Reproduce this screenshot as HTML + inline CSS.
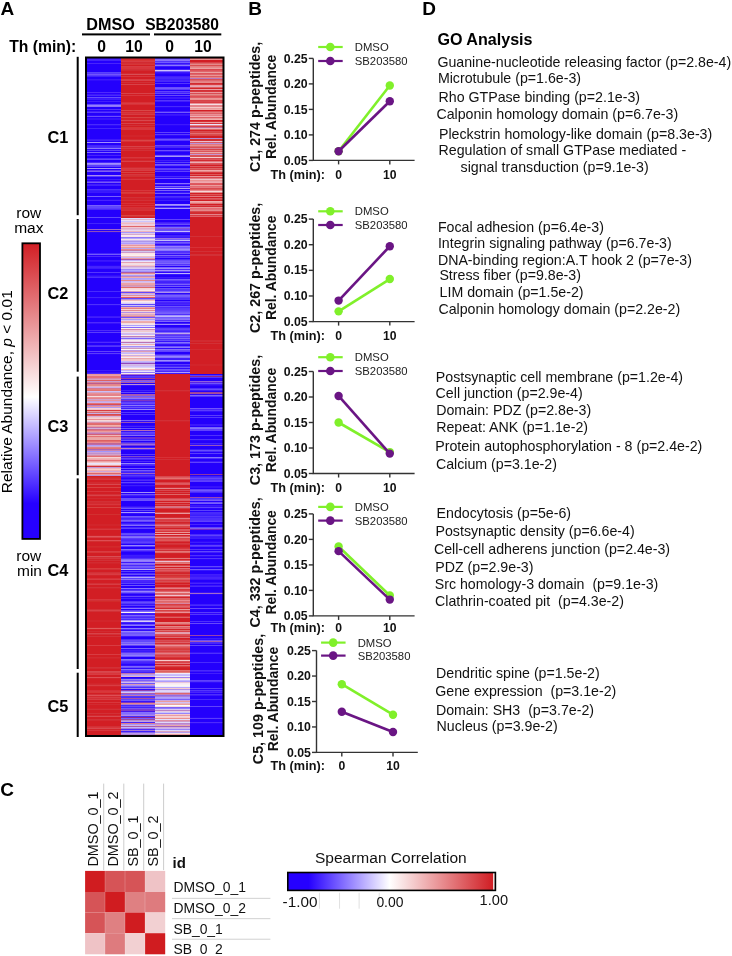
<!DOCTYPE html>
<html><head><meta charset="utf-8"><style>
html,body{margin:0;padding:0;background:#fff;width:732px;height:956px;overflow:hidden}
svg{display:block;font-family:"Liberation Sans", sans-serif;will-change:transform}
</style></head><body>
<svg width="732" height="956" viewBox="0 0 732 956">
<rect width="732" height="956" fill="#fff"/>
<text x="0.6" y="14.75" font-size="19" font-weight="bold" fill="#000">A</text>
<text x="248.2" y="14.7" font-size="19" font-weight="bold" fill="#000">B</text>
<text x="422.2" y="14.7" font-size="19" font-weight="bold" fill="#000">D</text>
<text x="0.2" y="795.5" font-size="19" font-weight="bold" fill="#000">C</text>
<text x="86.3" y="29.6" font-size="16.2" font-weight="bold" fill="#000">DMSO</text>
<text x="145.2" y="29.6" font-size="15.6" font-weight="bold" fill="#000">SB203580</text>
<rect x="82" y="33.4" width="68" height="2" fill="#000"/>
<rect x="154" y="33.4" width="67.3" height="2" fill="#000"/>
<text x="9.2" y="51.6" font-size="15.7" font-weight="bold" fill="#000">Th (min):</text>
<text x="101.5" y="51.6" font-size="15.7" font-weight="bold" text-anchor="middle" fill="#000">0</text>
<text x="134" y="51.6" font-size="15.7" font-weight="bold" text-anchor="middle" fill="#000">10</text>
<text x="169.7" y="51.6" font-size="15.7" font-weight="bold" text-anchor="middle" fill="#000">0</text>
<text x="203" y="51.6" font-size="15.7" font-weight="bold" text-anchor="middle" fill="#000">10</text>
<g shape-rendering="crispEdges"><path fill="#3c18fc" d="M87 58h34v1h-34zM87 79h34v1h-34zM87 94h34v1h-34zM87 98h34v1h-34zM87 139h34v1h-34zM87 192h34v1h-34zM87 260h34v1h-34zM87 316h34v1h-34zM121 474h34.1v1h-34.1zM121 551h34.1v1h-34.1zM121 556h34.1v2h-34.1zM121 562h34.1v1h-34.1zM121 614h34.1v1h-34.1zM121 636h34.1v1h-34.1zM155.1 66h34.7v1h-34.7zM155.1 72h34.7v1h-34.7zM155.1 97h34.7v2h-34.7zM155.1 114h34.7v1h-34.7zM155.1 124h34.7v1h-34.7zM155.1 151h34.7v1h-34.7zM155.1 237h34.7v1h-34.7zM155.1 277h34.7v1h-34.7zM155.1 285h34.7v1h-34.7zM155.1 373h34.7v1h-34.7zM189.8 424h32.7v2h-32.7zM189.8 461h32.7v1h-32.7zM189.8 505h32.7v1h-32.7zM189.8 537h32.7v1h-32.7zM189.8 575h32.7v2h-32.7zM189.8 579h32.7v1h-32.7zM189.8 585h32.7v1h-32.7zM189.8 671h32.7v1h-32.7zM189.8 691h32.7v1h-32.7zM189.8 695h32.7v1h-32.7z"/><path fill="#4824fc" d="M87 59h34v1h-34zM87 63h34v1h-34zM87 155h34v1h-34zM87 200h34v1h-34zM87 267h34v1h-34zM121 459h34.1v1h-34.1zM121 465h34.1v1h-34.1zM121 476h34.1v1h-34.1zM121 518h34.1v1h-34.1zM121 535h34.1v1h-34.1zM121 580h34.1v2h-34.1zM121 662h34.1v1h-34.1zM121 722h34.1v1h-34.1zM155.1 69h34.7v1h-34.7zM155.1 80h34.7v1h-34.7zM155.1 92h34.7v1h-34.7zM155.1 147h34.7v1h-34.7zM155.1 232h34.7v1h-34.7zM155.1 241h34.7v1h-34.7zM155.1 256h34.7v1h-34.7zM155.1 302h34.7v1h-34.7zM189.8 409h32.7v1h-32.7zM189.8 524h32.7v1h-32.7zM189.8 577h32.7v2h-32.7zM189.8 583h32.7v1h-32.7zM189.8 643h32.7v1h-32.7zM189.8 692h32.7v1h-32.7z"/><path fill="#4224fc" d="M87 60h34v1h-34zM87 76h34v1h-34zM87 128h34v1h-34zM87 140h34v1h-34zM87 145h34v1h-34zM87 185h34v1h-34zM87 223h34v1h-34zM87 253h34v1h-34zM87 266h34v1h-34zM87 297h34v1h-34zM121 390h34.1v1h-34.1zM121 404h34.1v1h-34.1zM121 406h34.1v1h-34.1zM121 426h34.1v1h-34.1zM121 439h34.1v1h-34.1zM121 495h34.1v1h-34.1zM121 593h34.1v1h-34.1zM121 598h34.1v1h-34.1zM121 613h34.1v1h-34.1zM121 622h34.1v1h-34.1zM121 707h34.1v1h-34.1zM155.1 138h34.7v1h-34.7zM155.1 197h34.7v1h-34.7zM155.1 226h34.7v1h-34.7zM155.1 235h34.7v2h-34.7zM155.1 281h34.7v1h-34.7zM155.1 323h34.7v1h-34.7zM155.1 331h34.7v1h-34.7zM155.1 366h34.7v1h-34.7zM189.8 443h32.7v1h-32.7zM189.8 476h32.7v1h-32.7zM189.8 514h32.7v1h-32.7zM189.8 517h32.7v1h-32.7z"/><path fill="#2400fc" d="M87 61h34v1h-34zM87 64h34v8h-34zM87 77h34v2h-34zM87 81h34v11h-34zM87 96h34v1h-34zM87 100h34v1h-34zM87 102h34v2h-34zM87 107h34v2h-34zM87 110h34v1h-34zM87 113h34v2h-34zM87 117h34v1h-34zM87 120h34v4h-34zM87 126h34v2h-34zM87 129h34v10h-34zM87 141h34v1h-34zM87 143h34v2h-34zM87 151h34v1h-34zM87 153h34v1h-34zM87 156h34v2h-34zM87 160h34v2h-34zM87 167h34v1h-34zM87 169h34v1h-34zM87 172h34v3h-34zM87 177h34v2h-34zM87 183h34v1h-34zM87 186h34v3h-34zM87 193h34v3h-34zM87 197h34v2h-34zM87 201h34v4h-34zM87 210h34v7h-34zM87 218h34v5h-34zM87 224h34v5h-34zM87 230h34v1h-34zM87 233h34v20h-34zM87 257h34v3h-34zM87 262h34v3h-34zM87 269h34v3h-34zM87 273h34v2h-34zM87 278h34v13h-34zM87 292h34v5h-34zM87 299h34v5h-34zM87 306h34v10h-34zM87 318h34v4h-34zM87 324h34v6h-34zM87 333h34v8h-34zM87 343h34v2h-34zM87 347h34v4h-34zM87 355h34v15h-34zM121 383h34.1v1h-34.1zM121 386h34.1v4h-34.1zM121 393h34.1v1h-34.1zM121 410h34.1v2h-34.1zM121 413h34.1v1h-34.1zM121 415h34.1v4h-34.1zM121 423h34.1v2h-34.1zM121 427h34.1v1h-34.1zM121 429h34.1v1h-34.1zM121 436h34.1v1h-34.1zM121 441h34.1v1h-34.1zM121 446h34.1v1h-34.1zM121 450h34.1v4h-34.1zM121 455h34.1v1h-34.1zM121 460h34.1v1h-34.1zM121 462h34.1v1h-34.1zM121 466h34.1v2h-34.1zM121 469h34.1v1h-34.1zM121 481h34.1v1h-34.1zM121 484h34.1v1h-34.1zM121 487h34.1v5h-34.1zM121 493h34.1v1h-34.1zM121 501h34.1v5h-34.1zM121 509h34.1v1h-34.1zM121 511h34.1v1h-34.1zM121 514h34.1v2h-34.1zM121 526h34.1v1h-34.1zM121 529h34.1v3h-34.1zM121 544h34.1v1h-34.1zM121 547h34.1v2h-34.1zM121 552h34.1v2h-34.1zM121 572h34.1v1h-34.1zM121 575h34.1v1h-34.1zM121 584h34.1v1h-34.1zM121 586h34.1v2h-34.1zM121 594h34.1v1h-34.1zM121 599h34.1v2h-34.1zM121 606h34.1v1h-34.1zM121 609h34.1v1h-34.1zM121 626h34.1v1h-34.1zM121 637h34.1v2h-34.1zM121 646h34.1v2h-34.1zM121 657h34.1v2h-34.1zM121 677h34.1v1h-34.1zM155.1 67h34.7v2h-34.7zM155.1 74h34.7v2h-34.7zM155.1 82h34.7v1h-34.7zM155.1 84h34.7v3h-34.7zM155.1 90h34.7v1h-34.7zM155.1 94h34.7v1h-34.7zM155.1 96h34.7v1h-34.7zM155.1 99h34.7v1h-34.7zM155.1 102h34.7v4h-34.7zM155.1 108h34.7v3h-34.7zM155.1 113h34.7v1h-34.7zM155.1 116h34.7v8h-34.7zM155.1 126h34.7v6h-34.7zM155.1 133h34.7v1h-34.7zM155.1 136h34.7v2h-34.7zM155.1 141h34.7v4h-34.7zM155.1 148h34.7v2h-34.7zM155.1 152h34.7v2h-34.7zM155.1 157h34.7v3h-34.7zM155.1 163h34.7v1h-34.7zM155.1 167h34.7v1h-34.7zM155.1 172h34.7v4h-34.7zM155.1 179h34.7v4h-34.7zM155.1 185h34.7v1h-34.7zM155.1 194h34.7v2h-34.7zM155.1 201h34.7v3h-34.7zM155.1 206h34.7v1h-34.7zM155.1 209h34.7v10h-34.7zM155.1 220h34.7v2h-34.7zM155.1 234h34.7v1h-34.7zM155.1 258h34.7v1h-34.7zM155.1 266h34.7v1h-34.7zM155.1 275h34.7v2h-34.7zM155.1 287h34.7v1h-34.7zM155.1 300h34.7v1h-34.7zM155.1 322h34.7v1h-34.7zM155.1 325h34.7v2h-34.7zM155.1 352h34.7v2h-34.7zM155.1 362h34.7v2h-34.7zM189.8 374h32.7v1h-32.7zM189.8 378h32.7v3h-32.7zM189.8 386h32.7v2h-32.7zM189.8 391h32.7v1h-32.7zM189.8 397h32.7v11h-32.7zM189.8 412h32.7v3h-32.7zM189.8 416h32.7v1h-32.7zM189.8 418h32.7v6h-32.7zM189.8 426h32.7v1h-32.7zM189.8 431h32.7v4h-32.7zM189.8 436h32.7v3h-32.7zM189.8 441h32.7v2h-32.7zM189.8 446h32.7v3h-32.7zM189.8 452h32.7v1h-32.7zM189.8 454h32.7v3h-32.7zM189.8 459h32.7v2h-32.7zM189.8 463h32.7v11h-32.7zM189.8 475h32.7v1h-32.7zM189.8 482h32.7v4h-32.7zM189.8 488h32.7v1h-32.7zM189.8 493h32.7v4h-32.7zM189.8 501h32.7v1h-32.7zM189.8 504h32.7v1h-32.7zM189.8 509h32.7v1h-32.7zM189.8 511h32.7v1h-32.7zM189.8 522h32.7v2h-32.7zM189.8 525h32.7v2h-32.7zM189.8 530h32.7v4h-32.7zM189.8 539h32.7v2h-32.7zM189.8 543h32.7v1h-32.7zM189.8 547h32.7v1h-32.7zM189.8 550h32.7v1h-32.7zM189.8 553h32.7v2h-32.7zM189.8 557h32.7v1h-32.7zM189.8 560h32.7v6h-32.7zM189.8 568h32.7v1h-32.7zM189.8 571h32.7v3h-32.7zM189.8 580h32.7v2h-32.7zM189.8 584h32.7v1h-32.7zM189.8 587h32.7v5h-32.7zM189.8 595h32.7v9h-32.7zM189.8 606h32.7v2h-32.7zM189.8 609h32.7v3h-32.7zM189.8 615h32.7v6h-32.7zM189.8 622h32.7v1h-32.7zM189.8 624h32.7v11h-32.7zM189.8 636h32.7v2h-32.7zM189.8 644h32.7v1h-32.7zM189.8 646h32.7v6h-32.7zM189.8 654h32.7v8h-32.7zM189.8 663h32.7v7h-32.7zM189.8 672h32.7v1h-32.7zM189.8 674h32.7v6h-32.7zM189.8 683h32.7v5h-32.7zM189.8 689h32.7v1h-32.7zM189.8 693h32.7v1h-32.7zM189.8 696h32.7v3h-32.7zM189.8 700h32.7v6h-32.7zM189.8 707h32.7v10h-32.7zM189.8 719h32.7v3h-32.7zM189.8 724h32.7v11h-32.7z"/><path fill="#2400ff" d="M87 62h34v1h-34z"/><path fill="#5a42fc" d="M87 72h34v1h-34zM87 150h34v1h-34zM121 524h34.1v1h-34.1zM121 571h34.1v1h-34.1zM121 578h34.1v1h-34.1zM121 583h34.1v1h-34.1zM155.1 162h34.7v1h-34.7zM189.8 510h32.7v1h-32.7z"/><path fill="#5436fc" d="M87 73h34v1h-34zM87 272h34v1h-34zM87 346h34v1h-34zM121 399h34.1v1h-34.1zM121 412h34.1v1h-34.1zM121 541h34.1v1h-34.1zM121 558h34.1v1h-34.1zM121 568h34.1v1h-34.1zM121 590h34.1v1h-34.1zM121 601h34.1v1h-34.1zM121 603h34.1v1h-34.1zM121 671h34.1v1h-34.1zM121 696h34.1v1h-34.1zM155.1 58h34.7v1h-34.7zM155.1 61h34.7v1h-34.7zM155.1 64h34.7v1h-34.7zM155.1 83h34.7v1h-34.7zM155.1 100h34.7v1h-34.7zM155.1 140h34.7v1h-34.7zM155.1 207h34.7v1h-34.7zM155.1 264h34.7v1h-34.7zM155.1 283h34.7v1h-34.7zM155.1 289h34.7v2h-34.7zM155.1 294h34.7v1h-34.7zM155.1 299h34.7v1h-34.7zM155.1 320h34.7v1h-34.7zM155.1 335h34.7v1h-34.7zM155.1 337h34.7v1h-34.7zM189.8 377h32.7v1h-32.7zM189.8 396h32.7v1h-32.7zM189.8 417h32.7v1h-32.7zM189.8 516h32.7v1h-32.7zM189.8 520h32.7v1h-32.7zM189.8 549h32.7v1h-32.7zM189.8 558h32.7v1h-32.7zM189.8 614h32.7v1h-32.7zM189.8 681h32.7v1h-32.7zM189.8 690h32.7v1h-32.7z"/><path fill="#7254fc" d="M87 74h34v1h-34zM121 317h34.1v1h-34.1zM155.1 178h34.7v1h-34.7zM189.8 408h32.7v1h-32.7z"/><path fill="#5a3cfc" d="M87 75h34v1h-34zM87 112h34v1h-34zM87 165h34v2h-34zM87 176h34v1h-34zM87 208h34v1h-34zM87 332h34v1h-34zM87 353h34v1h-34zM121 376h34.1v1h-34.1zM121 433h34.1v1h-34.1zM121 454h34.1v1h-34.1zM121 538h34.1v1h-34.1zM121 546h34.1v1h-34.1zM121 550h34.1v1h-34.1zM121 605h34.1v1h-34.1zM121 616h34.1v1h-34.1zM121 670h34.1v1h-34.1zM155.1 89h34.7v1h-34.7zM155.1 134h34.7v1h-34.7zM155.1 168h34.7v1h-34.7zM155.1 257h34.7v1h-34.7zM155.1 301h34.7v1h-34.7zM155.1 309h34.7v1h-34.7zM155.1 328h34.7v1h-34.7zM155.1 364h34.7v1h-34.7zM189.8 375h32.7v1h-32.7zM189.8 410h32.7v1h-32.7zM189.8 415h32.7v1h-32.7zM189.8 453h32.7v1h-32.7zM189.8 480h32.7v1h-32.7zM189.8 612h32.7v1h-32.7zM189.8 688h32.7v1h-32.7zM189.8 718h32.7v1h-32.7z"/><path fill="#300cfc" d="M87 80h34v1h-34zM87 125h34v1h-34zM87 149h34v1h-34zM87 275h34v1h-34zM87 341h34v1h-34zM121 421h34.1v1h-34.1zM121 496h34.1v1h-34.1zM121 595h34.1v1h-34.1zM121 623h34.1v1h-34.1zM121 630h34.1v1h-34.1zM121 649h34.1v1h-34.1zM121 668h34.1v1h-34.1zM121 689h34.1v1h-34.1zM155.1 73h34.7v1h-34.7zM155.1 135h34.7v1h-34.7zM155.1 177h34.7v1h-34.7zM155.1 198h34.7v1h-34.7zM155.1 244h34.7v1h-34.7zM155.1 254h34.7v1h-34.7zM155.1 278h34.7v1h-34.7zM155.1 348h34.7v1h-34.7zM155.1 368h34.7v1h-34.7zM189.8 385h32.7v1h-32.7zM189.8 444h32.7v1h-32.7zM189.8 544h32.7v1h-32.7zM189.8 556h32.7v1h-32.7zM189.8 639h32.7v1h-32.7zM189.8 682h32.7v1h-32.7z"/><path fill="#4e2afc" d="M87 92h34v1h-34zM87 256h34v1h-34zM87 322h34v1h-34zM87 330h34v1h-34zM87 342h34v1h-34zM121 449h34.1v1h-34.1zM121 461h34.1v1h-34.1zM121 480h34.1v1h-34.1zM121 539h34.1v1h-34.1zM121 617h34.1v1h-34.1zM121 629h34.1v1h-34.1zM121 729h34.1v1h-34.1zM155.1 269h34.7v1h-34.7zM155.1 307h34.7v1h-34.7zM189.8 722h32.7v1h-32.7z"/><path fill="#2a00fc" d="M87 93h34v1h-34zM87 180h34v1h-34zM87 255h34v1h-34zM87 298h34v1h-34zM87 352h34v1h-34zM121 419h34.1v1h-34.1zM121 478h34.1v1h-34.1zM155.1 225h34.7v1h-34.7zM189.8 548h32.7v1h-32.7z"/><path fill="#482afc" d="M87 95h34v1h-34zM87 124h34v1h-34zM87 146h34v1h-34zM87 162h34v1h-34zM87 209h34v1h-34zM87 291h34v1h-34zM87 345h34v1h-34zM87 373h34v1h-34zM121 527h34.1v1h-34.1zM121 540h34.1v1h-34.1zM121 543h34.1v1h-34.1zM121 565h34.1v1h-34.1zM121 619h34.1v1h-34.1zM121 705h34.1v1h-34.1zM121 716h34.1v1h-34.1zM155.1 77h34.7v2h-34.7zM155.1 81h34.7v1h-34.7zM155.1 106h34.7v1h-34.7zM155.1 146h34.7v1h-34.7zM155.1 176h34.7v1h-34.7zM155.1 187h34.7v1h-34.7zM155.1 259h34.7v1h-34.7zM155.1 304h34.7v1h-34.7zM155.1 354h34.7v1h-34.7zM155.1 371h34.7v1h-34.7zM189.8 451h32.7v1h-32.7zM189.8 492h32.7v1h-32.7zM189.8 512h32.7v2h-32.7zM189.8 534h32.7v1h-32.7zM189.8 586h32.7v1h-32.7zM189.8 605h32.7v1h-32.7zM189.8 642h32.7v1h-32.7zM189.8 662h32.7v1h-32.7zM189.8 670h32.7v1h-32.7zM189.8 699h32.7v1h-32.7z"/><path fill="#664efc" d="M87 97h34v1h-34zM121 407h34.1v1h-34.1zM121 428h34.1v1h-34.1zM121 498h34.1v2h-34.1zM121 534h34.1v1h-34.1zM121 574h34.1v1h-34.1zM121 602h34.1v1h-34.1zM121 618h34.1v1h-34.1zM121 624h34.1v1h-34.1zM121 667h34.1v1h-34.1zM155.1 224h34.7v1h-34.7zM155.1 230h34.7v1h-34.7zM155.1 260h34.7v1h-34.7zM155.1 288h34.7v1h-34.7zM155.1 311h34.7v1h-34.7zM155.1 340h34.7v1h-34.7zM155.1 343h34.7v1h-34.7zM155.1 350h34.7v1h-34.7zM189.8 389h32.7v1h-32.7zM189.8 450h32.7v1h-32.7z"/><path fill="#3c1efc" d="M87 99h34v1h-34zM87 190h34v1h-34zM87 268h34v1h-34zM87 276h34v1h-34zM87 370h34v1h-34zM121 408h34.1v1h-34.1zM121 479h34.1v1h-34.1zM121 485h34.1v1h-34.1zM121 523h34.1v1h-34.1zM121 555h34.1v1h-34.1zM121 589h34.1v1h-34.1zM121 663h34.1v1h-34.1zM121 731h34.1v1h-34.1zM155.1 79h34.7v1h-34.7zM155.1 200h34.7v1h-34.7zM155.1 359h34.7v1h-34.7zM189.8 449h32.7v1h-32.7zM189.8 515h32.7v1h-32.7zM189.8 536h32.7v1h-32.7zM189.8 538h32.7v1h-32.7zM189.8 542h32.7v1h-32.7zM189.8 604h32.7v1h-32.7zM189.8 638h32.7v1h-32.7z"/><path fill="#421efc" d="M87 101h34v1h-34zM87 111h34v1h-34zM87 179h34v1h-34zM87 184h34v1h-34zM87 317h34v1h-34zM121 447h34.1v1h-34.1zM121 472h34.1v1h-34.1zM121 582h34.1v1h-34.1zM121 607h34.1v1h-34.1zM121 650h34.1v1h-34.1zM121 672h34.1v1h-34.1zM155.1 76h34.7v1h-34.7zM155.1 101h34.7v1h-34.7zM155.1 111h34.7v1h-34.7zM155.1 160h34.7v1h-34.7zM155.1 184h34.7v1h-34.7zM155.1 222h34.7v1h-34.7zM155.1 282h34.7v1h-34.7zM155.1 303h34.7v1h-34.7zM155.1 358h34.7v1h-34.7zM189.8 384h32.7v1h-32.7zM189.8 390h32.7v1h-32.7zM189.8 552h32.7v1h-32.7zM189.8 574h32.7v1h-32.7zM189.8 673h32.7v1h-32.7z"/><path fill="#6048fc" d="M87 104h34v1h-34zM87 206h34v2h-34zM87 217h34v1h-34zM121 304h34.1v1h-34.1zM121 392h34.1v1h-34.1zM121 533h34.1v1h-34.1zM121 641h34.1v1h-34.1zM155.1 93h34.7v1h-34.7zM189.8 527h32.7v1h-32.7zM189.8 551h32.7v1h-32.7zM189.8 566h32.7v1h-32.7zM189.8 645h32.7v1h-32.7z"/><path fill="#967efc" d="M87 105h34v1h-34zM155.1 246h34.7v1h-34.7z"/><path fill="#8a72f6" d="M87 106h34v1h-34z"/><path fill="#5430fc" d="M87 109h34v1h-34zM87 181h34v1h-34zM155.1 252h34.7v1h-34.7z"/><path fill="#300cff" d="M87 115h34v1h-34z"/><path fill="#6c4efc" d="M87 116h34v1h-34zM121 494h34.1v1h-34.1zM155.1 87h34.7v1h-34.7zM155.1 150h34.7v1h-34.7zM155.1 253h34.7v1h-34.7zM155.1 346h34.7v1h-34.7zM189.8 502h32.7v1h-32.7zM189.8 640h32.7v1h-32.7z"/><path fill="#3612fc" d="M87 118h34v2h-34zM87 261h34v1h-34zM87 323h34v1h-34zM87 372h34v1h-34zM121 385h34.1v1h-34.1zM121 431h34.1v1h-34.1zM121 477h34.1v1h-34.1zM121 483h34.1v1h-34.1zM121 506h34.1v1h-34.1zM121 513h34.1v1h-34.1zM121 665h34.1v1h-34.1zM121 701h34.1v1h-34.1zM155.1 63h34.7v1h-34.7zM155.1 170h34.7v1h-34.7zM155.1 305h34.7v1h-34.7zM155.1 341h34.7v1h-34.7zM155.1 344h34.7v1h-34.7zM155.1 365h34.7v1h-34.7zM189.8 411h32.7v1h-32.7zM189.8 486h32.7v2h-32.7zM189.8 506h32.7v1h-32.7zM189.8 582h32.7v1h-32.7zM189.8 652h32.7v1h-32.7z"/><path fill="#a290fc" d="M87 142h34v1h-34zM87 163h34v1h-34zM87 168h34v1h-34zM121 271h34.1v1h-34.1zM121 346h34.1v1h-34.1zM121 620h34.1v1h-34.1zM121 685h34.1v1h-34.1zM155.1 270h34.7v1h-34.7z"/><path fill="#4e30fc" d="M87 147h34v1h-34zM87 158h34v1h-34zM87 189h34v1h-34zM87 277h34v1h-34zM87 304h34v1h-34zM121 377h34.1v1h-34.1zM121 414h34.1v1h-34.1zM121 434h34.1v1h-34.1zM121 442h34.1v1h-34.1zM121 464h34.1v1h-34.1zM121 471h34.1v1h-34.1zM121 507h34.1v1h-34.1zM121 519h34.1v1h-34.1zM121 573h34.1v1h-34.1zM121 639h34.1v1h-34.1zM121 661h34.1v1h-34.1zM121 687h34.1v1h-34.1zM121 697h34.1v1h-34.1zM155.1 196h34.7v1h-34.7zM155.1 223h34.7v1h-34.7zM155.1 245h34.7v1h-34.7zM155.1 251h34.7v1h-34.7zM155.1 298h34.7v1h-34.7zM155.1 314h34.7v1h-34.7zM155.1 330h34.7v1h-34.7zM155.1 339h34.7v1h-34.7zM189.8 388h32.7v1h-32.7zM189.8 435h32.7v1h-32.7zM189.8 439h32.7v1h-32.7zM189.8 458h32.7v1h-32.7zM189.8 477h32.7v1h-32.7zM189.8 479h32.7v1h-32.7zM189.8 498h32.7v1h-32.7zM189.8 518h32.7v2h-32.7zM189.8 546h32.7v1h-32.7zM189.8 555h32.7v1h-32.7zM189.8 621h32.7v1h-32.7zM189.8 653h32.7v1h-32.7zM189.8 694h32.7v1h-32.7z"/><path fill="#8a78fc" d="M87 148h34v1h-34zM121 398h34.1v1h-34.1zM121 405h34.1v1h-34.1zM121 625h34.1v1h-34.1zM121 628h34.1v1h-34.1zM155.1 65h34.7v1h-34.7zM155.1 205h34.7v1h-34.7zM155.1 250h34.7v1h-34.7zM155.1 347h34.7v1h-34.7z"/><path fill="#7e66fc" d="M87 152h34v1h-34zM121 338h34.1v1h-34.1zM121 536h34.1v1h-34.1zM121 549h34.1v1h-34.1zM121 611h34.1v1h-34.1zM121 615h34.1v1h-34.1zM121 654h34.1v1h-34.1zM121 666h34.1v1h-34.1zM121 694h34.1v1h-34.1zM155.1 186h34.7v1h-34.7zM155.1 255h34.7v1h-34.7zM155.1 263h34.7v1h-34.7zM155.1 267h34.7v1h-34.7zM155.1 291h34.7v1h-34.7zM155.1 321h34.7v1h-34.7zM155.1 332h34.7v1h-34.7zM155.1 338h34.7v1h-34.7zM189.8 395h32.7v1h-32.7z"/><path fill="#2a06fc" d="M87 154h34v1h-34zM87 199h34v1h-34zM87 232h34v1h-34zM87 265h34v1h-34zM87 305h34v1h-34zM87 331h34v1h-34zM87 354h34v1h-34zM87 371h34v1h-34zM121 391h34.1v1h-34.1zM121 486h34.1v1h-34.1zM121 497h34.1v1h-34.1zM121 522h34.1v1h-34.1zM121 532h34.1v1h-34.1zM121 554h34.1v1h-34.1zM121 570h34.1v1h-34.1zM121 597h34.1v1h-34.1zM121 664h34.1v1h-34.1zM155.1 107h34.7v1h-34.7zM155.1 125h34.7v1h-34.7zM155.1 154h34.7v1h-34.7zM155.1 161h34.7v1h-34.7zM155.1 166h34.7v1h-34.7zM155.1 189h34.7v1h-34.7zM155.1 191h34.7v1h-34.7zM155.1 199h34.7v1h-34.7zM155.1 293h34.7v1h-34.7zM155.1 345h34.7v1h-34.7zM189.8 440h32.7v1h-32.7zM189.8 508h32.7v1h-32.7zM189.8 559h32.7v1h-32.7zM189.8 594h32.7v1h-32.7zM189.8 717h32.7v1h-32.7zM189.8 723h32.7v1h-32.7z"/><path fill="#6648fc" d="M87 159h34v1h-34zM121 292h34.1v1h-34.1zM121 298h34.1v1h-34.1zM121 403h34.1v1h-34.1zM121 521h34.1v1h-34.1zM121 576h34.1v1h-34.1zM121 596h34.1v1h-34.1zM121 640h34.1v1h-34.1zM121 706h34.1v1h-34.1zM155.1 95h34.7v1h-34.7zM155.1 145h34.7v1h-34.7zM155.1 370h34.7v1h-34.7zM189.8 478h32.7v1h-32.7zM189.8 608h32.7v1h-32.7zM189.8 623h32.7v1h-32.7z"/><path fill="#907efc" d="M87 164h34v1h-34zM121 655h34.1v1h-34.1zM155.1 708h34.7v1h-34.7z"/><path fill="#663cf0" d="M87 170h34v1h-34z"/><path fill="#7e60f0" d="M87 171h34v1h-34z"/><path fill="#a88af0" d="M87 175h34v1h-34z"/><path fill="#785af6" d="M87 182h34v1h-34z"/><path fill="#3618fc" d="M87 191h34v1h-34zM121 604h34.1v1h-34.1zM121 651h34.1v1h-34.1zM121 678h34.1v1h-34.1zM155.1 192h34.7v1h-34.7zM155.1 274h34.7v1h-34.7zM155.1 327h34.7v1h-34.7zM189.8 567h32.7v1h-32.7zM189.8 570h32.7v1h-32.7z"/><path fill="#7860fc" d="M87 196h34v1h-34zM87 205h34v1h-34zM121 306h34.1v1h-34.1zM121 381h34.1v1h-34.1zM121 420h34.1v1h-34.1zM121 520h34.1v1h-34.1zM121 632h34.1v1h-34.1zM121 634h34.1v2h-34.1zM121 648h34.1v1h-34.1zM121 680h34.1v1h-34.1zM121 686h34.1v1h-34.1zM121 718h34.1v1h-34.1zM155.1 190h34.7v1h-34.7zM155.1 239h34.7v1h-34.7zM155.1 247h34.7v1h-34.7zM155.1 279h34.7v1h-34.7zM155.1 284h34.7v1h-34.7zM155.1 295h34.7v1h-34.7zM155.1 313h34.7v1h-34.7zM155.1 699h34.7v1h-34.7zM189.8 503h32.7v1h-32.7z"/><path fill="#9c66cc" d="M87 229h34v1h-34z"/><path fill="#904eba" d="M87 231h34v1h-34z"/><path fill="#725afc" d="M87 254h34v1h-34zM121 396h34.1v1h-34.1zM121 470h34.1v1h-34.1zM121 516h34.1v1h-34.1zM121 566h34.1v1h-34.1zM121 592h34.1v1h-34.1zM121 643h34.1v1h-34.1zM121 660h34.1v1h-34.1zM121 700h34.1v1h-34.1zM155.1 71h34.7v1h-34.7zM155.1 88h34.7v1h-34.7zM155.1 112h34.7v1h-34.7zM155.1 155h34.7v1h-34.7zM155.1 164h34.7v1h-34.7zM155.1 193h34.7v1h-34.7zM155.1 242h34.7v1h-34.7zM155.1 261h34.7v1h-34.7zM155.1 265h34.7v1h-34.7zM155.1 286h34.7v1h-34.7zM155.1 296h34.7v1h-34.7zM155.1 312h34.7v1h-34.7zM155.1 317h34.7v1h-34.7zM155.1 336h34.7v1h-34.7zM155.1 355h34.7v1h-34.7zM155.1 361h34.7v1h-34.7zM189.8 490h32.7v1h-32.7zM189.8 569h32.7v1h-32.7z"/><path fill="#6042fc" d="M87 351h34v1h-34zM121 402h34.1v1h-34.1zM121 432h34.1v1h-34.1zM121 458h34.1v1h-34.1zM121 482h34.1v1h-34.1zM121 510h34.1v1h-34.1zM121 517h34.1v1h-34.1zM121 528h34.1v1h-34.1zM121 542h34.1v1h-34.1zM121 610h34.1v1h-34.1zM121 645h34.1v1h-34.1zM121 699h34.1v1h-34.1zM155.1 91h34.7v1h-34.7zM155.1 132h34.7v1h-34.7zM155.1 165h34.7v1h-34.7zM155.1 169h34.7v1h-34.7zM155.1 171h34.7v1h-34.7zM155.1 219h34.7v1h-34.7zM155.1 243h34.7v1h-34.7zM155.1 271h34.7v1h-34.7zM155.1 280h34.7v1h-34.7zM155.1 297h34.7v1h-34.7zM155.1 310h34.7v1h-34.7zM155.1 329h34.7v1h-34.7zM155.1 351h34.7v1h-34.7zM189.8 429h32.7v2h-32.7zM189.8 462h32.7v1h-32.7zM189.8 481h32.7v1h-32.7zM189.8 489h32.7v1h-32.7zM189.8 491h32.7v1h-32.7zM189.8 499h32.7v1h-32.7zM189.8 507h32.7v1h-32.7zM189.8 521h32.7v1h-32.7zM189.8 535h32.7v1h-32.7zM189.8 545h32.7v1h-32.7zM189.8 680h32.7v1h-32.7zM189.8 706h32.7v1h-32.7z"/><path fill="#ea969c" d="M87 374h34v1h-34zM87 400h34v1h-34zM87 406h34v1h-34zM121 245h34.1v1h-34.1zM155.1 513h34.7v1h-34.7zM189.8 92h32.7v1h-32.7zM189.8 176h32.7v1h-32.7z"/><path fill="#eaa2a8" d="M87 375h34v1h-34zM87 461h34v1h-34zM121 283h34.1v2h-34.1zM155.1 534h34.7v1h-34.7zM189.8 181h32.7v1h-32.7z"/><path fill="#e47278" d="M87 376h34v2h-34zM87 403h34v1h-34zM87 460h34v1h-34zM155.1 568h34.7v1h-34.7zM155.1 663h34.7v1h-34.7z"/><path fill="#d88aa8" d="M87 378h34v1h-34z"/><path fill="#d8a2c0" d="M87 379h34v1h-34zM121 291h34.1v1h-34.1zM155.1 731h34.7v1h-34.7z"/><path fill="#de6060" d="M87 380h34v1h-34zM87 440h34v1h-34zM155.1 599h34.7v1h-34.7zM155.1 617h34.7v1h-34.7zM155.1 644h34.7v1h-34.7zM155.1 671h34.7v1h-34.7zM189.8 87h32.7v1h-32.7zM189.8 168h32.7v1h-32.7z"/><path fill="#c69cd2" d="M87 381h34v1h-34z"/><path fill="#d88496" d="M87 382h34v1h-34z"/><path fill="#c05a8a" d="M87 383h34v1h-34z"/><path fill="#e4848a" d="M87 384h34v1h-34zM87 394h34v2h-34zM87 398h34v1h-34zM121 703h34.1v1h-34.1zM155.1 488h34.7v1h-34.7zM155.1 537h34.7v1h-34.7zM189.8 105h32.7v2h-32.7zM189.8 214h32.7v1h-32.7z"/><path fill="#e48a8a" d="M87 385h34v1h-34zM121 273h34.1v1h-34.1zM121 280h34.1v1h-34.1zM155.1 622h34.7v1h-34.7zM189.8 64h32.7v1h-32.7zM189.8 67h32.7v1h-32.7zM189.8 82h32.7v1h-32.7zM189.8 94h32.7v1h-32.7zM189.8 192h32.7v1h-32.7zM189.8 210h32.7v1h-32.7z"/><path fill="#e4b4c6" d="M87 386h34v1h-34zM121 676h34.1v1h-34.1zM155.1 703h34.7v1h-34.7z"/><path fill="#ccaeea" d="M87 387h34v1h-34z"/><path fill="#d87890" d="M87 388h34v1h-34z"/><path fill="#e47e7e" d="M87 389h34v1h-34zM155.1 623h34.7v1h-34.7zM155.1 672h34.7v1h-34.7zM189.8 66h32.7v1h-32.7zM189.8 112h32.7v1h-32.7zM189.8 150h32.7v1h-32.7z"/><path fill="#e47272" d="M87 390h34v1h-34zM87 436h34v1h-34zM87 441h34v1h-34zM87 448h34v1h-34zM155.1 478h34.7v1h-34.7zM155.1 602h34.7v1h-34.7zM155.1 670h34.7v1h-34.7zM189.8 203h32.7v1h-32.7z"/><path fill="#ccc0f6" d="M87 391h34v1h-34z"/><path fill="#d2a2c6" d="M87 392h34v1h-34z"/><path fill="#ea9096" d="M87 393h34v1h-34zM87 397h34v1h-34zM87 419h34v1h-34zM155.1 612h34.7v1h-34.7zM155.1 645h34.7v1h-34.7zM189.8 103h32.7v1h-32.7zM189.8 114h32.7v1h-32.7z"/><path fill="#f6dede" d="M87 396h34v1h-34zM121 263h34.1v1h-34.1zM121 323h34.1v1h-34.1zM155.1 706h34.7v1h-34.7z"/><path fill="#d2a2cc" d="M87 399h34v1h-34zM87 454h34v1h-34zM121 266h34.1v1h-34.1z"/><path fill="#c6a8e4" d="M87 401h34v1h-34z"/><path fill="#ccb4ea" d="M87 402h34v1h-34zM121 725h34.1v1h-34.1z"/><path fill="#d84e54" d="M87 404h34v1h-34zM87 556h34v1h-34zM121 74h34.1v1h-34.1zM155.1 581h34.7v1h-34.7zM155.1 635h34.7v1h-34.7zM155.1 640h34.7v1h-34.7zM155.1 650h34.7v1h-34.7zM155.1 661h34.7v1h-34.7zM189.8 79h32.7v1h-32.7zM189.8 93h32.7v1h-32.7zM189.8 147h32.7v1h-32.7zM189.8 156h32.7v1h-32.7zM189.8 205h32.7v1h-32.7z"/><path fill="#ba7ec0" d="M87 405h34v1h-34zM121 448h34.1v1h-34.1z"/><path fill="#b49cf0" d="M87 407h34v1h-34zM121 362h34.1v1h-34.1zM155.1 732h34.7v1h-34.7z"/><path fill="#f6d2d8" d="M87 408h34v1h-34zM155.1 716h34.7v1h-34.7z"/><path fill="#f0c0c6" d="M87 409h34v1h-34zM121 256h34.1v1h-34.1zM189.8 179h32.7v1h-32.7z"/><path fill="#d83c42" d="M87 410h34v1h-34zM87 537h34v1h-34zM87 551h34v1h-34zM87 574h34v1h-34zM87 579h34v1h-34zM87 584h34v1h-34zM87 645h34v1h-34zM87 654h34v1h-34zM87 674h34v1h-34zM87 685h34v1h-34zM87 697h34v1h-34zM87 699h34v1h-34zM121 61h34.1v1h-34.1zM121 66h34.1v1h-34.1zM121 79h34.1v1h-34.1zM121 103h34.1v1h-34.1zM121 114h34.1v1h-34.1zM121 168h34.1v1h-34.1zM121 170h34.1v1h-34.1zM155.1 508h34.7v1h-34.7zM155.1 520h34.7v1h-34.7zM155.1 580h34.7v1h-34.7zM155.1 584h34.7v1h-34.7zM155.1 604h34.7v1h-34.7zM155.1 651h34.7v1h-34.7zM155.1 659h34.7v1h-34.7zM189.8 84h32.7v1h-32.7zM189.8 102h32.7v1h-32.7zM189.8 172h32.7v1h-32.7zM189.8 215h32.7v1h-32.7z"/><path fill="#eaa2a2" d="M87 411h34v1h-34zM87 437h34v1h-34zM87 465h34v1h-34zM155.1 704h34.7v1h-34.7zM189.8 68h32.7v1h-32.7zM189.8 72h32.7v1h-32.7z"/><path fill="#d86c78" d="M87 412h34v1h-34z"/><path fill="#c6aee4" d="M87 413h34v1h-34z"/><path fill="#d8484e" d="M87 414h34v1h-34zM87 484h34v1h-34zM87 671h34v1h-34zM87 716h34v1h-34zM87 728h34v1h-34zM121 120h34.1v1h-34.1zM155.1 476h34.7v1h-34.7zM155.1 490h34.7v1h-34.7zM155.1 498h34.7v1h-34.7zM155.1 504h34.7v1h-34.7zM155.1 521h34.7v1h-34.7zM155.1 569h34.7v1h-34.7zM155.1 571h34.7v1h-34.7zM189.8 69h32.7v1h-32.7zM189.8 101h32.7v1h-32.7zM189.8 131h32.7v1h-32.7zM189.8 158h32.7v1h-32.7zM189.8 164h32.7v1h-32.7zM189.8 169h32.7v1h-32.7zM189.8 177h32.7v1h-32.7zM189.8 188h32.7v1h-32.7zM189.8 199h32.7v1h-32.7zM189.8 211h32.7v1h-32.7z"/><path fill="#de6066" d="M87 415h34v1h-34zM155.1 502h34.7v1h-34.7zM155.1 598h34.7v1h-34.7zM155.1 611h34.7v1h-34.7zM155.1 627h34.7v1h-34.7zM155.1 642h34.7v1h-34.7zM189.8 113h32.7v1h-32.7zM189.8 117h32.7v1h-32.7zM189.8 216h32.7v1h-32.7z"/><path fill="#d8aed8" d="M87 416h34v1h-34z"/><path fill="#f0c6cc" d="M87 417h34v1h-34zM121 227h34.1v1h-34.1z"/><path fill="#f6d2d2" d="M87 418h34v1h-34zM87 457h34v1h-34zM121 288h34.1v1h-34.1zM121 309h34.1v1h-34.1z"/><path fill="#f6d8d8" d="M87 420h34v1h-34zM155.1 678h34.7v1h-34.7zM189.8 191h32.7v1h-32.7z"/><path fill="#e4c6d8" d="M87 421h34v1h-34z"/><path fill="#d890ae" d="M87 422h34v1h-34z"/><path fill="#e46c72" d="M87 423h34v1h-34zM87 456h34v1h-34zM155.1 628h34.7v1h-34.7zM155.1 665h34.7v1h-34.7zM189.8 58h32.7v1h-32.7zM189.8 133h32.7v1h-32.7zM189.8 186h32.7v1h-32.7zM189.8 208h32.7v1h-32.7z"/><path fill="#de6c6c" d="M87 424h34v1h-34zM121 287h34.1v1h-34.1zM155.1 578h34.7v1h-34.7zM155.1 630h34.7v1h-34.7zM189.8 95h32.7v1h-32.7zM189.8 146h32.7v1h-32.7z"/><path fill="#f0aeae" d="M87 425h34v1h-34zM87 470h34v1h-34zM87 472h34v1h-34zM121 277h34.1v1h-34.1zM121 321h34.1v1h-34.1zM189.8 119h32.7v1h-32.7zM189.8 201h32.7v1h-32.7z"/><path fill="#ea9c9c" d="M87 426h34v1h-34zM87 431h34v1h-34zM121 247h34.1v1h-34.1zM155.1 609h34.7v1h-34.7zM155.1 701h34.7v1h-34.7zM189.8 108h32.7v1h-32.7zM189.8 122h32.7v1h-32.7zM189.8 185h32.7v1h-32.7zM189.8 202h32.7v1h-32.7z"/><path fill="#c072a8" d="M87 427h34v1h-34z"/><path fill="#d2aede" d="M87 428h34v1h-34z"/><path fill="#cc6c8a" d="M87 429h34v1h-34z"/><path fill="#e4787e" d="M87 430h34v1h-34zM155.1 525h34.7v1h-34.7zM189.8 144h32.7v1h-32.7zM189.8 161h32.7v1h-32.7zM189.8 187h32.7v1h-32.7zM189.8 196h32.7v1h-32.7zM189.8 209h32.7v1h-32.7z"/><path fill="#d290ba" d="M87 432h34v1h-34z"/><path fill="#c078b4" d="M87 433h34v1h-34z"/><path fill="#d26078" d="M87 434h34v1h-34z"/><path fill="#f0b4b4" d="M87 435h34v1h-34zM87 458h34v1h-34z"/><path fill="#eaa8a8" d="M87 438h34v2h-34zM121 315h34.1v1h-34.1zM121 322h34.1v1h-34.1zM155.1 725h34.7v1h-34.7zM189.8 152h32.7v1h-32.7z"/><path fill="#ea8a90" d="M87 442h34v1h-34zM121 249h34.1v1h-34.1zM155.1 600h34.7v1h-34.7zM189.8 190h32.7v1h-32.7z"/><path fill="#c06696" d="M87 443h34v1h-34zM189.8 127h32.7v1h-32.7z"/><path fill="#c06ca2" d="M87 444h34v1h-34z"/><path fill="#ae9cfc" d="M87 445h34v1h-34zM121 243h34.1v1h-34.1zM155.1 372h34.7v1h-34.7zM155.1 681h34.7v1h-34.7z"/><path fill="#cca8d8" d="M87 446h34v1h-34z"/><path fill="#de7e8a" d="M87 447h34v1h-34zM121 723h34.1v1h-34.1z"/><path fill="#ae66b4" d="M87 449h34v1h-34z"/><path fill="#cc84ae" d="M87 450h34v1h-34z"/><path fill="#a296fc" d="M87 451h34v1h-34zM155.1 315h34.7v1h-34.7z"/><path fill="#cca2d8" d="M87 452h34v1h-34z"/><path fill="#c090cc" d="M87 453h34v1h-34z"/><path fill="#d88aa2" d="M87 455h34v1h-34z"/><path fill="#f0a8ae" d="M87 459h34v1h-34zM189.8 182h32.7v1h-32.7z"/><path fill="#f6c6c6" d="M87 462h34v1h-34zM121 246h34.1v1h-34.1zM121 265h34.1v1h-34.1zM121 356h34.1v1h-34.1zM189.8 107h32.7v1h-32.7z"/><path fill="#eae4fc" d="M87 463h34v1h-34zM121 261h34.1v1h-34.1zM121 326h34.1v1h-34.1zM121 371h34.1v1h-34.1zM189.8 124h32.7v1h-32.7z"/><path fill="#f0deea" d="M87 464h34v1h-34zM121 264h34.1v1h-34.1z"/><path fill="#d23036" d="M87 466h34v1h-34zM87 478h34v1h-34zM87 494h34v1h-34zM87 501h34v1h-34zM87 557h34v1h-34zM87 560h34v1h-34zM87 569h34v1h-34zM87 572h34v1h-34zM87 583h34v1h-34zM87 587h34v1h-34zM87 600h34v1h-34zM87 609h34v1h-34zM87 611h34v1h-34zM87 634h34v1h-34zM87 636h34v1h-34zM87 667h34v1h-34zM87 694h34v1h-34zM87 698h34v1h-34zM87 709h34v1h-34zM87 713h34v1h-34zM87 719h34v1h-34zM87 726h34v1h-34zM121 58h34.1v1h-34.1zM121 63h34.1v1h-34.1zM121 69h34.1v1h-34.1zM121 82h34.1v1h-34.1zM121 113h34.1v1h-34.1zM121 125h34.1v1h-34.1zM121 150h34.1v1h-34.1zM121 175h34.1v1h-34.1zM121 197h34.1v1h-34.1zM121 200h34.1v1h-34.1zM121 208h34.1v2h-34.1zM121 216h34.1v1h-34.1zM155.1 390h34.7v1h-34.7zM155.1 420h34.7v1h-34.7zM155.1 459h34.7v1h-34.7zM155.1 487h34.7v1h-34.7zM155.1 517h34.7v1h-34.7zM155.1 523h34.7v1h-34.7zM155.1 544h34.7v1h-34.7zM155.1 550h34.7v1h-34.7zM155.1 643h34.7v1h-34.7zM189.8 90h32.7v1h-32.7zM189.8 139h32.7v2h-32.7zM189.8 195h32.7v1h-32.7zM189.8 236h32.7v1h-32.7zM189.8 251h32.7v1h-32.7zM189.8 254h32.7v2h-32.7zM189.8 343h32.7v1h-32.7z"/><path fill="#c096d8" d="M87 467h34v1h-34z"/><path fill="#f0b4ba" d="M87 468h34v1h-34zM121 231h34.1v1h-34.1zM121 369h34.1v1h-34.1z"/><path fill="#f6cccc" d="M87 469h34v1h-34zM155.1 660h34.7v1h-34.7zM155.1 688h34.7v1h-34.7zM155.1 714h34.7v1h-34.7zM155.1 717h34.7v1h-34.7zM189.8 157h32.7v1h-32.7z"/><path fill="#cca8de" d="M87 471h34v1h-34zM155.1 700h34.7v1h-34.7z"/><path fill="#de666c" d="M87 473h34v1h-34zM121 226h34.1v1h-34.1zM155.1 499h34.7v1h-34.7zM155.1 591h34.7v1h-34.7zM155.1 594h34.7v1h-34.7zM155.1 601h34.7v1h-34.7zM155.1 606h34.7v1h-34.7zM155.1 646h34.7v1h-34.7zM155.1 693h34.7v1h-34.7zM189.8 71h32.7v1h-32.7zM189.8 74h32.7v1h-32.7zM189.8 80h32.7v1h-32.7zM189.8 153h32.7v1h-32.7z"/><path fill="#ea9ca2" d="M87 474h34v1h-34zM121 258h34.1v1h-34.1zM155.1 715h34.7v1h-34.7zM155.1 734h34.7v1h-34.7zM189.8 85h32.7v1h-32.7zM189.8 89h32.7v1h-32.7z"/><path fill="#ba96de" d="M87 475h34v1h-34z"/><path fill="#d21e24" d="M87 476h34v1h-34zM87 480h34v2h-34zM87 485h34v2h-34zM87 488h34v3h-34zM87 492h34v2h-34zM87 497h34v1h-34zM87 499h34v2h-34zM87 506h34v1h-34zM87 508h34v6h-34zM87 515h34v9h-34zM87 526h34v2h-34zM87 530h34v5h-34zM87 538h34v2h-34zM87 542h34v4h-34zM87 548h34v3h-34zM87 553h34v3h-34zM87 561h34v1h-34zM87 564h34v4h-34zM87 570h34v2h-34zM87 576h34v2h-34zM87 580h34v3h-34zM87 585h34v2h-34zM87 589h34v10h-34zM87 602h34v7h-34zM87 612h34v8h-34zM87 622h34v5h-34zM87 630h34v1h-34zM87 632h34v1h-34zM87 635h34v1h-34zM87 637h34v8h-34zM87 646h34v8h-34zM87 655h34v2h-34zM87 659h34v8h-34zM87 669h34v2h-34zM87 675h34v2h-34zM87 679h34v4h-34zM87 687h34v3h-34zM87 693h34v1h-34zM87 700h34v2h-34zM87 703h34v1h-34zM87 705h34v3h-34zM87 710h34v3h-34zM87 714h34v1h-34zM87 717h34v2h-34zM87 721h34v5h-34zM87 731h34v4h-34zM121 65h34.1v1h-34.1zM121 71h34.1v2h-34.1zM121 75h34.1v1h-34.1zM121 77h34.1v2h-34.1zM121 81h34.1v1h-34.1zM121 83h34.1v1h-34.1zM121 85h34.1v8h-34.1zM121 94h34.1v1h-34.1zM121 96h34.1v6h-34.1zM121 105h34.1v5h-34.1zM121 115h34.1v2h-34.1zM121 122h34.1v1h-34.1zM121 124h34.1v1h-34.1zM121 126h34.1v1h-34.1zM121 130h34.1v5h-34.1zM121 137h34.1v2h-34.1zM121 142h34.1v4h-34.1zM121 151h34.1v6h-34.1zM121 159h34.1v1h-34.1zM121 162h34.1v5h-34.1zM121 171h34.1v1h-34.1zM121 173h34.1v1h-34.1zM121 177h34.1v1h-34.1zM121 180h34.1v10h-34.1zM121 194h34.1v3h-34.1zM121 201h34.1v2h-34.1zM121 204h34.1v1h-34.1zM121 206h34.1v1h-34.1zM121 211h34.1v4h-34.1zM121 217h34.1v1h-34.1zM155.1 374h34.7v16h-34.7zM155.1 392h34.7v28h-34.7zM155.1 422h34.7v35h-34.7zM155.1 458h34.7v1h-34.7zM155.1 460h34.7v16h-34.7zM155.1 480h34.7v2h-34.7zM155.1 485h34.7v2h-34.7zM155.1 491h34.7v1h-34.7zM155.1 493h34.7v1h-34.7zM155.1 495h34.7v3h-34.7zM155.1 501h34.7v1h-34.7zM155.1 503h34.7v1h-34.7zM155.1 509h34.7v3h-34.7zM155.1 514h34.7v3h-34.7zM155.1 528h34.7v1h-34.7zM155.1 533h34.7v1h-34.7zM155.1 542h34.7v1h-34.7zM155.1 545h34.7v2h-34.7zM155.1 554h34.7v3h-34.7zM155.1 564h34.7v1h-34.7zM155.1 567h34.7v1h-34.7zM155.1 583h34.7v1h-34.7zM155.1 585h34.7v2h-34.7zM155.1 614h34.7v2h-34.7zM155.1 618h34.7v4h-34.7zM155.1 625h34.7v1h-34.7zM155.1 638h34.7v1h-34.7zM155.1 664h34.7v1h-34.7zM155.1 668h34.7v2h-34.7zM189.8 60h32.7v2h-32.7zM189.8 110h32.7v1h-32.7zM189.8 120h32.7v1h-32.7zM189.8 130h32.7v1h-32.7zM189.8 136h32.7v2h-32.7zM189.8 165h32.7v1h-32.7zM189.8 173h32.7v1h-32.7zM189.8 193h32.7v1h-32.7zM189.8 197h32.7v1h-32.7zM189.8 200h32.7v1h-32.7zM189.8 204h32.7v1h-32.7zM189.8 217h32.7v19h-32.7zM189.8 237h32.7v10h-32.7zM189.8 248h32.7v3h-32.7zM189.8 252h32.7v2h-32.7zM189.8 256h32.7v84h-32.7zM189.8 342h32.7v1h-32.7zM189.8 344h32.7v5h-32.7zM189.8 350h32.7v14h-32.7zM189.8 366h32.7v8h-32.7z"/><path fill="#d22a2a" d="M87 477h34v1h-34zM87 546h34v1h-34zM87 601h34v1h-34z"/><path fill="#d8363c" d="M87 479h34v1h-34zM87 491h34v1h-34zM87 504h34v1h-34zM87 529h34v1h-34zM87 558h34v1h-34zM87 573h34v1h-34zM87 599h34v1h-34zM87 673h34v1h-34zM87 691h34v1h-34zM87 702h34v1h-34zM87 727h34v1h-34zM87 730h34v1h-34zM121 67h34.1v2h-34.1zM121 76h34.1v1h-34.1zM121 95h34.1v1h-34.1zM121 112h34.1v1h-34.1zM121 128h34.1v2h-34.1zM121 148h34.1v1h-34.1zM121 157h34.1v1h-34.1zM121 169h34.1v1h-34.1zM121 174h34.1v1h-34.1zM121 179h34.1v1h-34.1zM121 190h34.1v1h-34.1zM155.1 531h34.7v1h-34.7zM155.1 541h34.7v1h-34.7zM155.1 543h34.7v1h-34.7zM155.1 548h34.7v1h-34.7zM155.1 576h34.7v1h-34.7zM155.1 589h34.7v1h-34.7zM155.1 616h34.7v1h-34.7zM155.1 636h34.7v1h-34.7zM189.8 91h32.7v1h-32.7zM189.8 123h32.7v1h-32.7z"/><path fill="#d22a30" d="M87 482h34v2h-34zM87 498h34v1h-34zM87 502h34v2h-34zM87 528h34v1h-34zM87 562h34v1h-34zM87 631h34v1h-34zM87 657h34v1h-34zM87 668h34v1h-34zM87 684h34v1h-34zM87 696h34v1h-34zM87 704h34v1h-34zM87 715h34v1h-34zM87 720h34v1h-34zM121 59h34.1v1h-34.1zM121 62h34.1v1h-34.1zM121 70h34.1v1h-34.1zM121 73h34.1v1h-34.1zM121 139h34.1v1h-34.1zM121 147h34.1v1h-34.1zM121 158h34.1v1h-34.1zM121 160h34.1v1h-34.1zM121 167h34.1v1h-34.1zM155.1 547h34.7v1h-34.7zM155.1 572h34.7v1h-34.7zM155.1 608h34.7v1h-34.7zM155.1 639h34.7v1h-34.7zM189.8 83h32.7v1h-32.7zM189.8 160h32.7v1h-32.7zM189.8 167h32.7v1h-32.7zM189.8 206h32.7v1h-32.7zM189.8 213h32.7v1h-32.7zM189.8 340h32.7v2h-32.7zM189.8 349h32.7v1h-32.7z"/><path fill="#d84242" d="M87 487h34v1h-34zM87 507h34v1h-34zM121 117h34.1v1h-34.1zM121 172h34.1v1h-34.1zM121 215h34.1v1h-34.1zM155.1 577h34.7v1h-34.7zM155.1 610h34.7v1h-34.7zM155.1 648h34.7v1h-34.7zM155.1 666h34.7v1h-34.7zM189.8 132h32.7v1h-32.7z"/><path fill="#d84248" d="M87 495h34v1h-34zM87 610h34v1h-34zM87 633h34v1h-34zM87 672h34v1h-34zM121 80h34.1v1h-34.1zM121 84h34.1v1h-34.1zM121 93h34.1v1h-34.1zM121 123h34.1v1h-34.1zM121 146h34.1v1h-34.1zM121 161h34.1v1h-34.1zM155.1 479h34.7v1h-34.7zM155.1 482h34.7v1h-34.7zM155.1 492h34.7v1h-34.7zM155.1 519h34.7v1h-34.7zM155.1 527h34.7v1h-34.7zM155.1 590h34.7v1h-34.7zM155.1 631h34.7v1h-34.7zM155.1 641h34.7v1h-34.7zM155.1 655h34.7v1h-34.7zM155.1 662h34.7v1h-34.7zM189.8 62h32.7v1h-32.7zM189.8 100h32.7v1h-32.7zM189.8 126h32.7v1h-32.7zM189.8 135h32.7v1h-32.7zM189.8 149h32.7v1h-32.7z"/><path fill="#d2242a" d="M87 496h34v1h-34zM87 505h34v1h-34zM87 524h34v2h-34zM87 535h34v1h-34zM87 547h34v1h-34zM87 559h34v1h-34zM87 563h34v1h-34zM87 575h34v1h-34zM87 588h34v1h-34zM87 620h34v2h-34zM87 627h34v1h-34zM87 629h34v1h-34zM87 658h34v1h-34zM87 678h34v1h-34zM87 683h34v1h-34zM87 686h34v1h-34zM87 708h34v1h-34zM87 729h34v1h-34zM121 111h34.1v1h-34.1zM121 118h34.1v2h-34.1zM121 121h34.1v1h-34.1zM121 135h34.1v2h-34.1zM121 149h34.1v1h-34.1zM121 178h34.1v1h-34.1zM121 191h34.1v1h-34.1zM121 198h34.1v2h-34.1zM155.1 391h34.7v1h-34.7zM155.1 421h34.7v1h-34.7zM155.1 489h34.7v1h-34.7zM155.1 505h34.7v1h-34.7zM155.1 522h34.7v1h-34.7zM155.1 535h34.7v1h-34.7zM155.1 553h34.7v1h-34.7zM155.1 557h34.7v1h-34.7zM155.1 559h34.7v1h-34.7zM155.1 573h34.7v1h-34.7zM155.1 597h34.7v1h-34.7zM155.1 629h34.7v1h-34.7zM155.1 658h34.7v1h-34.7zM155.1 667h34.7v1h-34.7zM189.8 88h32.7v1h-32.7zM189.8 175h32.7v1h-32.7zM189.8 364h32.7v2h-32.7z"/><path fill="#d23030" d="M87 514h34v1h-34zM87 541h34v1h-34zM121 176h34.1v1h-34.1zM155.1 575h34.7v1h-34.7zM155.1 613h34.7v1h-34.7zM189.8 212h32.7v1h-32.7z"/><path fill="#de545a" d="M87 536h34v1h-34zM155.1 484h34.7v1h-34.7zM155.1 524h34.7v1h-34.7zM155.1 530h34.7v1h-34.7zM155.1 549h34.7v1h-34.7zM155.1 560h34.7v1h-34.7zM155.1 607h34.7v1h-34.7zM155.1 624h34.7v1h-34.7zM155.1 634h34.7v1h-34.7zM189.8 70h32.7v1h-32.7zM189.8 73h32.7v1h-32.7zM189.8 111h32.7v1h-32.7zM189.8 151h32.7v1h-32.7zM189.8 159h32.7v1h-32.7zM189.8 163h32.7v1h-32.7zM189.8 184h32.7v1h-32.7z"/><path fill="#de4e54" d="M87 540h34v1h-34zM87 677h34v1h-34zM87 695h34v1h-34zM155.1 536h34.7v1h-34.7zM155.1 539h34.7v1h-34.7zM155.1 605h34.7v1h-34.7zM155.1 656h34.7v1h-34.7zM189.8 96h32.7v1h-32.7z"/><path fill="#d83636" d="M87 552h34v1h-34zM87 692h34v1h-34zM121 60h34.1v1h-34.1zM121 64h34.1v1h-34.1zM121 127h34.1v1h-34.1zM121 193h34.1v1h-34.1zM155.1 657h34.7v1h-34.7z"/><path fill="#d83c3c" d="M87 568h34v1h-34zM121 192h34.1v1h-34.1zM155.1 582h34.7v1h-34.7zM155.1 649h34.7v1h-34.7z"/><path fill="#d83036" d="M87 578h34v1h-34zM87 690h34v1h-34zM121 102h34.1v1h-34.1zM121 104h34.1v1h-34.1zM121 141h34.1v1h-34.1zM121 203h34.1v1h-34.1zM121 205h34.1v1h-34.1zM121 207h34.1v1h-34.1zM121 210h34.1v1h-34.1zM155.1 457h34.7v1h-34.7zM189.8 121h32.7v1h-32.7zM189.8 247h32.7v1h-32.7z"/><path fill="#de5a5a" d="M87 628h34v1h-34zM155.1 540h34.7v1h-34.7zM189.8 174h32.7v1h-32.7zM189.8 189h32.7v1h-32.7z"/><path fill="#d84848" d="M121 110h34.1v1h-34.1zM121 140h34.1v1h-34.1zM155.1 526h34.7v1h-34.7zM155.1 538h34.7v1h-34.7zM155.1 565h34.7v1h-34.7zM155.1 574h34.7v1h-34.7z"/><path fill="#ded8fc" d="M121 218h34.1v1h-34.1zM121 343h34.1v1h-34.1zM155.1 691h34.7v1h-34.7zM155.1 722h34.7v1h-34.7zM155.1 730h34.7v1h-34.7z"/><path fill="#deb4cc" d="M121 219h34.1v1h-34.1z"/><path fill="#eadef0" d="M121 220h34.1v1h-34.1z"/><path fill="#ccc6fc" d="M121 221h34.1v1h-34.1zM155.1 712h34.7v1h-34.7z"/><path fill="#eac6d8" d="M121 222h34.1v1h-34.1zM121 330h34.1v1h-34.1zM155.1 682h34.7v1h-34.7z"/><path fill="#f0bac0" d="M121 223h34.1v1h-34.1z"/><path fill="#eacce4" d="M121 224h34.1v1h-34.1z"/><path fill="#f6ccd2" d="M121 225h34.1v1h-34.1z"/><path fill="#deaecc" d="M121 228h34.1v1h-34.1z"/><path fill="#e4c0d8" d="M121 229h34.1v1h-34.1z"/><path fill="#ead8ea" d="M121 230h34.1v1h-34.1z"/><path fill="#a896fc" d="M121 232h34.1v1h-34.1zM121 512h34.1v1h-34.1zM155.1 204h34.7v1h-34.7zM155.1 208h34.7v1h-34.7zM155.1 698h34.7v1h-34.7z"/><path fill="#deccea" d="M121 233h34.1v1h-34.1z"/><path fill="#d8a8cc" d="M121 234h34.1v1h-34.1z"/><path fill="#f6eaf6" d="M121 235h34.1v1h-34.1zM121 357h34.1v1h-34.1zM155.1 683h34.7v1h-34.7z"/><path fill="#fce4e4" d="M121 236h34.1v1h-34.1zM121 253h34.1v1h-34.1zM121 354h34.1v1h-34.1z"/><path fill="#9078f6" d="M121 237h34.1v1h-34.1z"/><path fill="#b4a8fc" d="M121 238h34.1v1h-34.1zM121 270h34.1v1h-34.1zM121 569h34.1v1h-34.1zM121 675h34.1v1h-34.1z"/><path fill="#f6e4ea" d="M121 239h34.1v1h-34.1zM121 324h34.1v1h-34.1zM121 345h34.1v1h-34.1z"/><path fill="#ccbaf0" d="M121 240h34.1v1h-34.1zM121 337h34.1v1h-34.1zM121 347h34.1v1h-34.1z"/><path fill="#ae96ea" d="M121 241h34.1v1h-34.1z"/><path fill="#c0b4fc" d="M121 242h34.1v1h-34.1zM121 727h34.1v1h-34.1zM155.1 273h34.7v1h-34.7zM155.1 316h34.7v1h-34.7z"/><path fill="#deb4d8" d="M121 244h34.1v1h-34.1z"/><path fill="#baa8f0" d="M121 248h34.1v1h-34.1z"/><path fill="#cc7ea2" d="M121 250h34.1v1h-34.1z"/><path fill="#d2c6f0" d="M121 251h34.1v1h-34.1z"/><path fill="#cc9ccc" d="M121 252h34.1v1h-34.1z"/><path fill="#fceaea" d="M121 254h34.1v1h-34.1zM121 290h34.1v1h-34.1zM121 301h34.1v1h-34.1zM121 335h34.1v1h-34.1z"/><path fill="#fcf0f0" d="M121 255h34.1v1h-34.1zM121 328h34.1v1h-34.1zM121 368h34.1v1h-34.1zM121 612h34.1v1h-34.1zM155.1 684h34.7v1h-34.7z"/><path fill="#ccbaf6" d="M121 257h34.1v1h-34.1zM121 281h34.1v1h-34.1zM121 682h34.1v1h-34.1z"/><path fill="#ae5aa8" d="M121 259h34.1v1h-34.1z"/><path fill="#c6b4f6" d="M121 260h34.1v1h-34.1zM121 370h34.1v1h-34.1z"/><path fill="#e4a2b4" d="M121 262h34.1v1h-34.1z"/><path fill="#d8c0e4" d="M121 267h34.1v1h-34.1z"/><path fill="#deccf0" d="M121 268h34.1v1h-34.1zM121 320h34.1v1h-34.1z"/><path fill="#9c8afc" d="M121 269h34.1v1h-34.1zM155.1 268h34.7v1h-34.7zM155.1 324h34.7v1h-34.7z"/><path fill="#a85aae" d="M121 272h34.1v1h-34.1zM121 394h34.1v1h-34.1z"/><path fill="#e4c0de" d="M121 274h34.1v1h-34.1z"/><path fill="#a89cfc" d="M121 275h34.1v1h-34.1zM121 691h34.1v1h-34.1z"/><path fill="#c684ba" d="M121 276h34.1v1h-34.1z"/><path fill="#aea2fc" d="M121 278h34.1v1h-34.1zM121 325h34.1v1h-34.1zM121 577h34.1v1h-34.1zM155.1 697h34.7v1h-34.7z"/><path fill="#baa8f6" d="M121 279h34.1v1h-34.1z"/><path fill="#dec0e4" d="M121 282h34.1v1h-34.1z"/><path fill="#d896ae" d="M121 285h34.1v1h-34.1z"/><path fill="#d29cc6" d="M121 286h34.1v1h-34.1zM155.1 721h34.7v1h-34.7z"/><path fill="#f6d8de" d="M121 289h34.1v1h-34.1z"/><path fill="#d8a2c6" d="M121 293h34.1v1h-34.1z"/><path fill="#c6bafc" d="M121 294h34.1v1h-34.1zM121 334h34.1v1h-34.1zM121 353h34.1v1h-34.1zM121 361h34.1v1h-34.1zM155.1 231h34.7v1h-34.7zM155.1 675h34.7v1h-34.7zM155.1 680h34.7v1h-34.7z"/><path fill="#de909c" d="M121 295h34.1v1h-34.1z"/><path fill="#f6c6cc" d="M121 296h34.1v1h-34.1zM121 313h34.1v1h-34.1zM121 360h34.1v1h-34.1z"/><path fill="#de5a60" d="M121 297h34.1v1h-34.1zM155.1 477h34.7v1h-34.7zM155.1 483h34.7v1h-34.7zM155.1 500h34.7v1h-34.7zM155.1 529h34.7v1h-34.7zM155.1 570h34.7v1h-34.7zM155.1 579h34.7v1h-34.7zM155.1 587h34.7v1h-34.7zM155.1 596h34.7v1h-34.7zM155.1 652h34.7v1h-34.7zM155.1 654h34.7v1h-34.7zM189.8 76h32.7v1h-32.7zM189.8 97h32.7v1h-32.7zM189.8 142h32.7v1h-32.7zM189.8 166h32.7v1h-32.7zM189.8 183h32.7v1h-32.7zM189.8 198h32.7v1h-32.7z"/><path fill="#b490e4" d="M121 299h34.1v1h-34.1zM121 312h34.1v1h-34.1z"/><path fill="#f0baba" d="M121 300h34.1v1h-34.1z"/><path fill="#eadef6" d="M121 302h34.1v1h-34.1zM121 332h34.1v1h-34.1z"/><path fill="#d8ccf6" d="M121 303h34.1v1h-34.1zM121 621h34.1v1h-34.1z"/><path fill="#c6c0fc" d="M121 305h34.1v1h-34.1z"/><path fill="#f0a8a8" d="M121 307h34.1v1h-34.1zM189.8 109h32.7v1h-32.7zM189.8 170h32.7v1h-32.7z"/><path fill="#e47e84" d="M121 308h34.1v1h-34.1zM155.1 518h34.7v1h-34.7zM155.1 566h34.7v1h-34.7zM155.1 588h34.7v1h-34.7zM155.1 653h34.7v1h-34.7zM189.8 81h32.7v1h-32.7zM189.8 115h32.7v1h-32.7zM189.8 125h32.7v1h-32.7zM189.8 178h32.7v1h-32.7z"/><path fill="#e48a90" d="M121 310h34.1v1h-34.1z"/><path fill="#f0d2de" d="M121 311h34.1v1h-34.1z"/><path fill="#d8a8c6" d="M121 314h34.1v1h-34.1z"/><path fill="#d27ea2" d="M121 316h34.1v1h-34.1z"/><path fill="#e4bacc" d="M121 318h34.1v1h-34.1z"/><path fill="#ae9cf6" d="M121 319h34.1v1h-34.1z"/><path fill="#8466fc" d="M121 327h34.1v1h-34.1z"/><path fill="#d28aae" d="M121 329h34.1v1h-34.1z"/><path fill="#f0cccc" d="M121 331h34.1v1h-34.1z"/><path fill="#d8bae4" d="M121 333h34.1v1h-34.1z"/><path fill="#c07eb4" d="M121 336h34.1v1h-34.1z"/><path fill="#d8c6f0" d="M121 339h34.1v1h-34.1zM121 692h34.1v1h-34.1z"/><path fill="#f6eaf0" d="M121 340h34.1v1h-34.1zM121 373h34.1v1h-34.1z"/><path fill="#ead2ea" d="M121 341h34.1v1h-34.1z"/><path fill="#ba72b4" d="M121 342h34.1v1h-34.1zM121 673h34.1v1h-34.1z"/><path fill="#eaaeb4" d="M121 344h34.1v1h-34.1zM189.8 128h32.7v1h-32.7zM189.8 162h32.7v1h-32.7z"/><path fill="#cc96c0" d="M121 348h34.1v1h-34.1z"/><path fill="#fcf6f6" d="M121 349h34.1v1h-34.1zM155.1 685h34.7v1h-34.7z"/><path fill="#c09ce4" d="M121 350h34.1v1h-34.1z"/><path fill="#de9cb4" d="M121 351h34.1v1h-34.1z"/><path fill="#d2c0f0" d="M121 352h34.1v1h-34.1z"/><path fill="#ccaee4" d="M121 355h34.1v1h-34.1z"/><path fill="#eaa8ae" d="M121 358h34.1v1h-34.1z"/><path fill="#f0c6c6" d="M121 359h34.1v1h-34.1z"/><path fill="#9048ba" d="M121 363h34.1v1h-34.1z"/><path fill="#d2baea" d="M121 364h34.1v1h-34.1z"/><path fill="#d2b4e4" d="M121 365h34.1v1h-34.1z"/><path fill="#ccc0fc" d="M121 366h34.1v1h-34.1zM155.1 70h34.7v1h-34.7zM155.1 674h34.7v1h-34.7z"/><path fill="#ded2f6" d="M121 367h34.1v1h-34.1zM155.1 690h34.7v1h-34.7z"/><path fill="#9078fc" d="M121 372h34.1v1h-34.1zM121 561h34.1v1h-34.1zM121 714h34.1v1h-34.1z"/><path fill="#a872d2" d="M121 374h34.1v1h-34.1z"/><path fill="#4818ea" d="M121 375h34.1v1h-34.1z"/><path fill="#9c42a2" d="M121 378h34.1v1h-34.1z"/><path fill="#3c0cf0" d="M121 379h34.1v1h-34.1z"/><path fill="#9c5ac6" d="M121 380h34.1v1h-34.1z"/><path fill="#ae5aa2" d="M121 382h34.1v1h-34.1z"/><path fill="#ba90d8" d="M121 384h34.1v1h-34.1zM189.8 143h32.7v1h-32.7z"/><path fill="#a25aba" d="M121 395h34.1v1h-34.1zM121 693h34.1v1h-34.1z"/><path fill="#9c60cc" d="M121 397h34.1v1h-34.1zM121 473h34.1v1h-34.1z"/><path fill="#7e36c0" d="M121 400h34.1v1h-34.1z"/><path fill="#4e24f0" d="M121 401h34.1v1h-34.1z"/><path fill="#9684fc" d="M121 409h34.1v1h-34.1zM121 463h34.1v1h-34.1zM121 545h34.1v1h-34.1zM121 560h34.1v1h-34.1zM121 591h34.1v1h-34.1zM121 631h34.1v1h-34.1zM155.1 356h34.7v1h-34.7zM155.1 713h34.7v1h-34.7zM155.1 729h34.7v1h-34.7z"/><path fill="#964eba" d="M121 422h34.1v1h-34.1z"/><path fill="#3006fc" d="M121 425h34.1v1h-34.1zM121 627h34.1v1h-34.1zM155.1 272h34.7v1h-34.7zM189.8 541h32.7v1h-32.7zM189.8 613h32.7v1h-32.7z"/><path fill="#b46cb4" d="M121 430h34.1v1h-34.1z"/><path fill="#846cfc" d="M121 435h34.1v1h-34.1zM121 525h34.1v1h-34.1zM121 559h34.1v1h-34.1zM121 563h34.1v1h-34.1zM121 642h34.1v1h-34.1zM121 713h34.1v1h-34.1zM155.1 59h34.7v1h-34.7zM155.1 349h34.7v1h-34.7z"/><path fill="#6630d8" d="M121 437h34.1v1h-34.1z"/><path fill="#6630e4" d="M121 438h34.1v1h-34.1z"/><path fill="#6c54fc" d="M121 440h34.1v1h-34.1zM121 468h34.1v1h-34.1zM121 500h34.1v1h-34.1zM121 508h34.1v1h-34.1zM121 567h34.1v1h-34.1zM121 585h34.1v1h-34.1zM121 633h34.1v1h-34.1zM121 656h34.1v1h-34.1zM121 683h34.1v1h-34.1zM155.1 139h34.7v1h-34.7zM155.1 262h34.7v1h-34.7zM155.1 306h34.7v1h-34.7zM155.1 367h34.7v1h-34.7zM155.1 369h34.7v1h-34.7zM189.8 383h32.7v1h-32.7z"/><path fill="#7848d8" d="M121 443h34.1v1h-34.1z"/><path fill="#9c6cde" d="M121 444h34.1v1h-34.1z"/><path fill="#6c36e4" d="M121 445h34.1v1h-34.1z"/><path fill="#7e48d2" d="M121 456h34.1v1h-34.1z"/><path fill="#4212f0" d="M121 457h34.1v1h-34.1z"/><path fill="#543cfc" d="M121 475h34.1v1h-34.1zM155.1 308h34.7v1h-34.7z"/><path fill="#a290f6" d="M121 492h34.1v1h-34.1z"/><path fill="#8472fc" d="M121 537h34.1v1h-34.1zM121 659h34.1v1h-34.1zM121 669h34.1v1h-34.1zM121 712h34.1v1h-34.1zM155.1 342h34.7v1h-34.7zM155.1 357h34.7v1h-34.7zM189.8 428h32.7v1h-32.7zM189.8 457h32.7v1h-32.7z"/><path fill="#7e60f6" d="M121 564h34.1v1h-34.1zM155.1 707h34.7v1h-34.7z"/><path fill="#8a72fc" d="M121 579h34.1v1h-34.1zM121 588h34.1v1h-34.1zM121 608h34.1v1h-34.1zM155.1 60h34.7v1h-34.7zM155.1 183h34.7v1h-34.7zM155.1 248h34.7v1h-34.7zM155.1 319h34.7v1h-34.7z"/><path fill="#967ef6" d="M121 644h34.1v1h-34.1z"/><path fill="#5a36fc" d="M121 652h34.1v1h-34.1z"/><path fill="#7e66f6" d="M121 653h34.1v1h-34.1z"/><path fill="#c096de" d="M121 674h34.1v1h-34.1z"/><path fill="#9c84f0" d="M121 679h34.1v1h-34.1z"/><path fill="#ae8ae4" d="M121 681h34.1v1h-34.1z"/><path fill="#d896b4" d="M121 684h34.1v1h-34.1z"/><path fill="#9c7eea" d="M121 688h34.1v1h-34.1z"/><path fill="#9042b4" d="M121 690h34.1v1h-34.1z"/><path fill="#c078ae" d="M121 695h34.1v1h-34.1z"/><path fill="#a854a2" d="M121 698h34.1v1h-34.1z"/><path fill="#7836c6" d="M121 702h34.1v1h-34.1z"/><path fill="#ae78cc" d="M121 704h34.1v1h-34.1z"/><path fill="#7854f0" d="M121 708h34.1v1h-34.1z"/><path fill="#783cd8" d="M121 709h34.1v1h-34.1z"/><path fill="#7e3cc6" d="M121 710h34.1v1h-34.1z"/><path fill="#4818f0" d="M121 711h34.1v1h-34.1z"/><path fill="#ae8aea" d="M121 715h34.1v1h-34.1z"/><path fill="#902490" d="M121 717h34.1v1h-34.1z"/><path fill="#9c48a2" d="M121 719h34.1v1h-34.1z"/><path fill="#b48ad2" d="M121 720h34.1v1h-34.1zM189.8 138h32.7v1h-32.7z"/><path fill="#c0a2e4" d="M121 721h34.1v1h-34.1z"/><path fill="#a896f6" d="M121 724h34.1v1h-34.1zM155.1 156h34.7v1h-34.7z"/><path fill="#a85aa8" d="M121 726h34.1v1h-34.1z"/><path fill="#a87ed8" d="M121 728h34.1v1h-34.1z"/><path fill="#a878d2" d="M121 730h34.1v1h-34.1z"/><path fill="#8460ea" d="M121 732h34.1v1h-34.1z"/><path fill="#ba9cea" d="M121 733h34.1v1h-34.1z"/><path fill="#b484d2" d="M121 734h34.1v1h-34.1z"/><path fill="#725aff" d="M155.1 62h34.7v1h-34.7z"/><path fill="#3612ff" d="M155.1 115h34.7v1h-34.7z"/><path fill="#b4a2fc" d="M155.1 188h34.7v1h-34.7z"/><path fill="#7e6cfc" d="M155.1 227h34.7v1h-34.7zM155.1 318h34.7v1h-34.7z"/><path fill="#8454d8" d="M155.1 228h34.7v1h-34.7z"/><path fill="#6c48f6" d="M155.1 229h34.7v1h-34.7z"/><path fill="#3012fc" d="M155.1 233h34.7v1h-34.7z"/><path fill="#9672e4" d="M155.1 238h34.7v1h-34.7z"/><path fill="#c0bafc" d="M155.1 240h34.7v1h-34.7z"/><path fill="#9c90fc" d="M155.1 249h34.7v1h-34.7zM155.1 360h34.7v1h-34.7z"/><path fill="#ae90ea" d="M155.1 292h34.7v1h-34.7zM155.1 689h34.7v1h-34.7z"/><path fill="#c0a8ea" d="M155.1 333h34.7v1h-34.7z"/><path fill="#6c42f0" d="M155.1 334h34.7v1h-34.7z"/><path fill="#de6666" d="M155.1 494h34.7v1h-34.7zM155.1 552h34.7v1h-34.7zM155.1 593h34.7v1h-34.7zM189.8 63h32.7v1h-32.7zM189.8 129h32.7v1h-32.7z"/><path fill="#de727e" d="M155.1 506h34.7v1h-34.7z"/><path fill="#d27284" d="M155.1 507h34.7v1h-34.7z"/><path fill="#d84e4e" d="M155.1 512h34.7v1h-34.7zM189.8 65h32.7v1h-32.7zM189.8 134h32.7v1h-32.7z"/><path fill="#ea9696" d="M155.1 532h34.7v1h-34.7zM189.8 75h32.7v1h-32.7zM189.8 98h32.7v1h-32.7zM189.8 118h32.7v1h-32.7zM189.8 207h32.7v1h-32.7z"/><path fill="#e47878" d="M155.1 551h34.7v1h-34.7zM155.1 558h34.7v1h-34.7zM155.1 563h34.7v1h-34.7z"/><path fill="#eac0d2" d="M155.1 561h34.7v1h-34.7z"/><path fill="#de7272" d="M155.1 562h34.7v1h-34.7z"/><path fill="#f0aeb4" d="M155.1 592h34.7v1h-34.7zM189.8 116h32.7v1h-32.7z"/><path fill="#f0c0cc" d="M155.1 595h34.7v1h-34.7z"/><path fill="#d884a2" d="M155.1 603h34.7v1h-34.7z"/><path fill="#e48484" d="M155.1 626h34.7v1h-34.7zM189.8 77h32.7v1h-32.7zM189.8 171h32.7v1h-32.7z"/><path fill="#e49cae" d="M155.1 632h34.7v1h-34.7z"/><path fill="#e4a2ae" d="M155.1 633h34.7v1h-34.7z"/><path fill="#de6c72" d="M155.1 637h34.7v1h-34.7z"/><path fill="#de5454" d="M155.1 647h34.7v1h-34.7zM189.8 155h32.7v1h-32.7zM189.8 194h32.7v1h-32.7z"/><path fill="#f0eafc" d="M155.1 673h34.7v1h-34.7z"/><path fill="#eaeafc" d="M155.1 676h34.7v1h-34.7z"/><path fill="#a27ef0" d="M155.1 677h34.7v1h-34.7z"/><path fill="#f0eaf6" d="M155.1 679h34.7v1h-34.7z"/><path fill="#f0f0fc" d="M155.1 686h34.7v1h-34.7z"/><path fill="#baa8fc" d="M155.1 687h34.7v1h-34.7z"/><path fill="#d2aed8" d="M155.1 692h34.7v1h-34.7zM155.1 727h34.7v1h-34.7z"/><path fill="#c67eb4" d="M155.1 694h34.7v1h-34.7z"/><path fill="#906ce4" d="M155.1 695h34.7v1h-34.7z"/><path fill="#a87ede" d="M155.1 696h34.7v1h-34.7z"/><path fill="#d2c0f6" d="M155.1 702h34.7v1h-34.7z"/><path fill="#fcfcfc" d="M155.1 705h34.7v1h-34.7z"/><path fill="#d8c6f6" d="M155.1 709h34.7v1h-34.7z"/><path fill="#ba84c6" d="M155.1 710h34.7v1h-34.7z"/><path fill="#e4cce4" d="M155.1 711h34.7v1h-34.7z"/><path fill="#ea9090" d="M155.1 718h34.7v1h-34.7zM189.8 59h32.7v1h-32.7zM189.8 99h32.7v1h-32.7zM189.8 145h32.7v1h-32.7zM189.8 180h32.7v1h-32.7z"/><path fill="#e4defc" d="M155.1 719h34.7v1h-34.7z"/><path fill="#de90a2" d="M155.1 720h34.7v1h-34.7z"/><path fill="#ba84cc" d="M155.1 723h34.7v1h-34.7z"/><path fill="#c696d8" d="M155.1 724h34.7v1h-34.7z"/><path fill="#a260c0" d="M155.1 726h34.7v1h-34.7z"/><path fill="#ccb4f0" d="M155.1 728h34.7v1h-34.7z"/><path fill="#f6dee4" d="M155.1 733h34.7v1h-34.7zM189.8 104h32.7v1h-32.7z"/><path fill="#b478c0" d="M189.8 78h32.7v1h-32.7z"/><path fill="#e4a8ba" d="M189.8 86h32.7v1h-32.7z"/><path fill="#eac0cc" d="M189.8 141h32.7v1h-32.7z"/><path fill="#d87e96" d="M189.8 148h32.7v1h-32.7z"/><path fill="#c696d2" d="M189.8 154h32.7v1h-32.7z"/><path fill="#90248a" d="M189.8 376h32.7v1h-32.7z"/><path fill="#9060de" d="M189.8 381h32.7v1h-32.7z"/><path fill="#5a24e4" d="M189.8 382h32.7v1h-32.7z"/><path fill="#9c429c" d="M189.8 392h32.7v1h-32.7z"/><path fill="#a84e9c" d="M189.8 393h32.7v1h-32.7z"/><path fill="#3006f6" d="M189.8 394h32.7v1h-32.7z"/><path fill="#7866fc" d="M189.8 427h32.7v1h-32.7z"/><path fill="#9654c0" d="M189.8 445h32.7v1h-32.7z"/><path fill="#9036a2" d="M189.8 474h32.7v1h-32.7z"/><path fill="#9c48ae" d="M189.8 497h32.7v1h-32.7z"/><path fill="#785afc" d="M189.8 500h32.7v1h-32.7z"/><path fill="#8a60e4" d="M189.8 528h32.7v1h-32.7z"/><path fill="#722ac6" d="M189.8 529h32.7v1h-32.7z"/><path fill="#3c12f6" d="M189.8 592h32.7v1h-32.7z"/><path fill="#a26ccc" d="M189.8 593h32.7v1h-32.7z"/><path fill="#9642ae" d="M189.8 635h32.7v1h-32.7z"/><path fill="#a25ab4" d="M189.8 641h32.7v1h-32.7z"/></g>
<rect x="86" y="57.5" width="137.5" height="678.5" fill="none" stroke="#000" stroke-width="2"/>
<rect x="76.7" y="56.8" width="2" height="158.4" fill="#000"/>
<rect x="76.7" y="219" width="2" height="152.7" fill="#000"/>
<rect x="76.7" y="376.6" width="2" height="98.6" fill="#000"/>
<rect x="76.7" y="478.4" width="2" height="190.6" fill="#000"/>
<rect x="76.7" y="672.7" width="2" height="64.3" fill="#000"/>
<text x="47.6" y="143.3" font-size="16.3" font-weight="bold" fill="#000">C1</text>
<text x="47.6" y="298.5" font-size="16.3" font-weight="bold" fill="#000">C2</text>
<text x="47.6" y="432.1" font-size="16.3" font-weight="bold" fill="#000">C3</text>
<text x="47.6" y="576.1" font-size="16.3" font-weight="bold" fill="#000">C4</text>
<text x="47.6" y="712.1" font-size="16.3" font-weight="bold" fill="#000">C5</text>
<defs><linearGradient id="gA" x1="0" y1="0" x2="0" y2="1"><stop offset="0" stop-color="#d11e24"/><stop offset="0.52" stop-color="#fff"/><stop offset="0.88" stop-color="#2600ff"/><stop offset="1" stop-color="#2600ff"/></linearGradient><linearGradient id="gC" x1="0" y1="0" x2="1" y2="0"><stop offset="0" stop-color="#2600ff"/><stop offset="0.1" stop-color="#2600ff"/><stop offset="0.49" stop-color="#fff"/><stop offset="0.988" stop-color="#d11e24"/><stop offset="0.99" stop-color="#f0d8d8"/><stop offset="1" stop-color="#f0d8d8"/></linearGradient></defs>
<rect x="22.4" y="243.3" width="17.6" height="295.6" fill="url(#gA)" stroke="#000" stroke-width="1.8"/>
<text x="16.3" y="218" font-size="15.5" fill="#000">row</text>
<text x="14.2" y="232.7" font-size="15.5" fill="#000">max</text>
<text x="16.3" y="560.5" font-size="15.5" fill="#000">row</text>
<text x="17" y="576.2" font-size="15.5" fill="#000">min</text>
<text transform="translate(12.3,493.2) rotate(-90)" font-size="15.5">Relative Abundance, <tspan font-style="italic">p</tspan> &lt; 0.01</text>
<path d="M313.3 58.4V160.4H414.6" fill="none" stroke="#333" stroke-width="1.4"/><path d="M308.8 58.4H313.3" stroke="#333" stroke-width="1.4"/><text x="307.7" y="62.5" font-size="12.3" font-weight="bold" text-anchor="end" fill="#111">0.25</text><path d="M308.8 83.9H313.3" stroke="#333" stroke-width="1.4"/><text x="307.7" y="88" font-size="12.3" font-weight="bold" text-anchor="end" fill="#111">0.20</text><path d="M308.8 109.4H313.3" stroke="#333" stroke-width="1.4"/><text x="307.7" y="113.5" font-size="12.3" font-weight="bold" text-anchor="end" fill="#111">0.15</text><path d="M308.8 134.9H313.3" stroke="#333" stroke-width="1.4"/><text x="307.7" y="139" font-size="12.3" font-weight="bold" text-anchor="end" fill="#111">0.10</text><path d="M308.8 160.4H313.3" stroke="#333" stroke-width="1.4"/><text x="307.7" y="164.5" font-size="12.3" font-weight="bold" text-anchor="end" fill="#111">0.05</text><path d="M338.6 160.4V164.4" stroke="#333" stroke-width="1.4"/><path d="M389.8 160.4V164.4" stroke="#333" stroke-width="1.4"/><text x="338.6" y="178.7" font-size="12.2" font-weight="bold" text-anchor="middle" fill="#111">0</text><text x="389.8" y="178.7" font-size="12.2" font-weight="bold" text-anchor="middle" fill="#111">10</text><text x="270.6" y="178.9" font-size="12.7" font-weight="bold" fill="#111">Th (min):</text><path d="M338.6 151.22L389.8 85.43" stroke="#80f02a" stroke-width="2.6"/><circle cx="338.6" cy="151.22" r="4.2" fill="#80f02a"/><circle cx="389.8" cy="85.43" r="4.2" fill="#80f02a"/><path d="M338.6 151.22L389.8 101.24" stroke="#6a1584" stroke-width="2.6"/><circle cx="338.6" cy="151.22" r="4.2" fill="#6a1584"/><circle cx="389.8" cy="101.24" r="4.2" fill="#6a1584"/><path d="M318.2 47H342.7" stroke="#80f02a" stroke-width="2.2"/><circle cx="330.3" cy="47" r="4.3" fill="#80f02a"/><text x="354.8" y="51.1" font-size="11.3" fill="#222">DMSO</text><path d="M318.2 61H342.7" stroke="#6a1584" stroke-width="2.2"/><circle cx="330.3" cy="61" r="4.3" fill="#6a1584"/><text x="354.8" y="65.1" font-size="11.3" fill="#222">SB203580</text><text transform="translate(260.2,106.9) rotate(-90)" font-size="14.3" font-weight="bold" text-anchor="middle" fill="#111">C1, 274 p-peptides,</text><text transform="translate(275.6,106.9) rotate(-90)" font-size="13.9" font-weight="bold" text-anchor="middle" fill="#111">Rel. Abundance</text>
<path d="M313.3 219.1V321.6H414.6" fill="none" stroke="#333" stroke-width="1.4"/><path d="M308.8 219.1H313.3" stroke="#333" stroke-width="1.4"/><text x="307.7" y="223.2" font-size="12.3" font-weight="bold" text-anchor="end" fill="#111">0.25</text><path d="M308.8 244.72H313.3" stroke="#333" stroke-width="1.4"/><text x="307.7" y="248.82" font-size="12.3" font-weight="bold" text-anchor="end" fill="#111">0.20</text><path d="M308.8 270.35H313.3" stroke="#333" stroke-width="1.4"/><text x="307.7" y="274.45" font-size="12.3" font-weight="bold" text-anchor="end" fill="#111">0.15</text><path d="M308.8 295.98H313.3" stroke="#333" stroke-width="1.4"/><text x="307.7" y="300.08" font-size="12.3" font-weight="bold" text-anchor="end" fill="#111">0.10</text><path d="M308.8 321.6H313.3" stroke="#333" stroke-width="1.4"/><text x="307.7" y="325.7" font-size="12.3" font-weight="bold" text-anchor="end" fill="#111">0.05</text><path d="M338.6 321.6V325.6" stroke="#333" stroke-width="1.4"/><path d="M389.8 321.6V325.6" stroke="#333" stroke-width="1.4"/><text x="338.6" y="340.2" font-size="12.2" font-weight="bold" text-anchor="middle" fill="#111">0</text><text x="389.8" y="340.2" font-size="12.2" font-weight="bold" text-anchor="middle" fill="#111">10</text><text x="270.6" y="340.4" font-size="12.7" font-weight="bold" fill="#111">Th (min):</text><path d="M338.6 311.35L389.8 279.06" stroke="#80f02a" stroke-width="2.6"/><circle cx="338.6" cy="311.35" r="4.2" fill="#80f02a"/><circle cx="389.8" cy="279.06" r="4.2" fill="#80f02a"/><path d="M338.6 300.59L389.8 246.26" stroke="#6a1584" stroke-width="2.6"/><circle cx="338.6" cy="300.59" r="4.2" fill="#6a1584"/><circle cx="389.8" cy="246.26" r="4.2" fill="#6a1584"/><path d="M318.2 211.3H342.7" stroke="#80f02a" stroke-width="2.2"/><circle cx="330.3" cy="211.3" r="4.3" fill="#80f02a"/><text x="354.8" y="215.4" font-size="11.3" fill="#222">DMSO</text><path d="M318.2 225H342.7" stroke="#6a1584" stroke-width="2.2"/><circle cx="330.3" cy="225" r="4.3" fill="#6a1584"/><text x="354.8" y="229.1" font-size="11.3" fill="#222">SB203580</text><text transform="translate(260.2,267.85) rotate(-90)" font-size="14.3" font-weight="bold" text-anchor="middle" fill="#111">C2, 267 p-peptides,</text><text transform="translate(275.6,267.85) rotate(-90)" font-size="13.9" font-weight="bold" text-anchor="middle" fill="#111">Rel. Abundance</text>
<path d="M313.3 371.5V473.5H414.6" fill="none" stroke="#333" stroke-width="1.4"/><path d="M308.8 371.5H313.3" stroke="#333" stroke-width="1.4"/><text x="307.7" y="375.6" font-size="12.3" font-weight="bold" text-anchor="end" fill="#111">0.25</text><path d="M308.8 397H313.3" stroke="#333" stroke-width="1.4"/><text x="307.7" y="401.1" font-size="12.3" font-weight="bold" text-anchor="end" fill="#111">0.20</text><path d="M308.8 422.5H313.3" stroke="#333" stroke-width="1.4"/><text x="307.7" y="426.6" font-size="12.3" font-weight="bold" text-anchor="end" fill="#111">0.15</text><path d="M308.8 448H313.3" stroke="#333" stroke-width="1.4"/><text x="307.7" y="452.1" font-size="12.3" font-weight="bold" text-anchor="end" fill="#111">0.10</text><path d="M308.8 473.5H313.3" stroke="#333" stroke-width="1.4"/><text x="307.7" y="477.6" font-size="12.3" font-weight="bold" text-anchor="end" fill="#111">0.05</text><path d="M338.6 473.5V477.5" stroke="#333" stroke-width="1.4"/><path d="M389.8 473.5V477.5" stroke="#333" stroke-width="1.4"/><text x="338.6" y="491.5" font-size="12.2" font-weight="bold" text-anchor="middle" fill="#111">0</text><text x="389.8" y="491.5" font-size="12.2" font-weight="bold" text-anchor="middle" fill="#111">10</text><text x="270.6" y="491.7" font-size="12.7" font-weight="bold" fill="#111">Th (min):</text><path d="M338.6 422.5L389.8 452.08" stroke="#80f02a" stroke-width="2.6"/><circle cx="338.6" cy="422.5" r="4.2" fill="#80f02a"/><circle cx="389.8" cy="452.08" r="4.2" fill="#80f02a"/><path d="M338.6 395.98L389.8 453.61" stroke="#6a1584" stroke-width="2.6"/><circle cx="338.6" cy="395.98" r="4.2" fill="#6a1584"/><circle cx="389.8" cy="453.61" r="4.2" fill="#6a1584"/><path d="M318.2 357.2H342.7" stroke="#80f02a" stroke-width="2.2"/><circle cx="330.3" cy="357.2" r="4.3" fill="#80f02a"/><text x="354.8" y="361.3" font-size="11.3" fill="#222">DMSO</text><path d="M318.2 371H342.7" stroke="#6a1584" stroke-width="2.2"/><circle cx="330.3" cy="371" r="4.3" fill="#6a1584"/><text x="354.8" y="375.1" font-size="11.3" fill="#222">SB203580</text><text transform="translate(260.2,420) rotate(-90)" font-size="14.3" font-weight="bold" text-anchor="middle" fill="#111">C3, 173 p-peptides,</text><text transform="translate(275.6,420) rotate(-90)" font-size="13.9" font-weight="bold" text-anchor="middle" fill="#111">Rel. Abundance</text>
<path d="M313.3 513.9V615.9H414.6" fill="none" stroke="#333" stroke-width="1.4"/><path d="M308.8 513.9H313.3" stroke="#333" stroke-width="1.4"/><text x="307.7" y="518" font-size="12.3" font-weight="bold" text-anchor="end" fill="#111">0.25</text><path d="M308.8 539.4H313.3" stroke="#333" stroke-width="1.4"/><text x="307.7" y="543.5" font-size="12.3" font-weight="bold" text-anchor="end" fill="#111">0.20</text><path d="M308.8 564.9H313.3" stroke="#333" stroke-width="1.4"/><text x="307.7" y="569" font-size="12.3" font-weight="bold" text-anchor="end" fill="#111">0.15</text><path d="M308.8 590.4H313.3" stroke="#333" stroke-width="1.4"/><text x="307.7" y="594.5" font-size="12.3" font-weight="bold" text-anchor="end" fill="#111">0.10</text><path d="M308.8 615.9H313.3" stroke="#333" stroke-width="1.4"/><text x="307.7" y="620" font-size="12.3" font-weight="bold" text-anchor="end" fill="#111">0.05</text><path d="M338.6 615.9V619.9" stroke="#333" stroke-width="1.4"/><path d="M389.8 615.9V619.9" stroke="#333" stroke-width="1.4"/><text x="338.6" y="631.9" font-size="12.2" font-weight="bold" text-anchor="middle" fill="#111">0</text><text x="389.8" y="631.9" font-size="12.2" font-weight="bold" text-anchor="middle" fill="#111">10</text><text x="270.6" y="632.1" font-size="12.7" font-weight="bold" fill="#111">Th (min):</text><path d="M338.6 546.54L389.8 595.5" stroke="#80f02a" stroke-width="2.6"/><circle cx="338.6" cy="546.54" r="4.2" fill="#80f02a"/><circle cx="389.8" cy="595.5" r="4.2" fill="#80f02a"/><path d="M338.6 551.13L389.8 599.58" stroke="#6a1584" stroke-width="2.6"/><circle cx="338.6" cy="551.13" r="4.2" fill="#6a1584"/><circle cx="389.8" cy="599.58" r="4.2" fill="#6a1584"/><path d="M318.2 506.9H342.7" stroke="#80f02a" stroke-width="2.2"/><circle cx="330.3" cy="506.9" r="4.3" fill="#80f02a"/><text x="354.8" y="511" font-size="11.3" fill="#222">DMSO</text><path d="M318.2 520.6H342.7" stroke="#6a1584" stroke-width="2.2"/><circle cx="330.3" cy="520.6" r="4.3" fill="#6a1584"/><text x="354.8" y="524.7" font-size="11.3" fill="#222">SB203580</text><text transform="translate(260.2,562.4) rotate(-90)" font-size="14.3" font-weight="bold" text-anchor="middle" fill="#111">C4, 332 p-peptides,</text><text transform="translate(275.6,562.4) rotate(-90)" font-size="13.9" font-weight="bold" text-anchor="middle" fill="#111">Rel. Abundance</text>
<path d="M316.5 650.6V752.4H417.8" fill="none" stroke="#333" stroke-width="1.4"/><path d="M312 650.6H316.5" stroke="#333" stroke-width="1.4"/><text x="310.9" y="654.7" font-size="12.3" font-weight="bold" text-anchor="end" fill="#111">0.25</text><path d="M312 676.05H316.5" stroke="#333" stroke-width="1.4"/><text x="310.9" y="680.15" font-size="12.3" font-weight="bold" text-anchor="end" fill="#111">0.20</text><path d="M312 701.5H316.5" stroke="#333" stroke-width="1.4"/><text x="310.9" y="705.6" font-size="12.3" font-weight="bold" text-anchor="end" fill="#111">0.15</text><path d="M312 726.95H316.5" stroke="#333" stroke-width="1.4"/><text x="310.9" y="731.05" font-size="12.3" font-weight="bold" text-anchor="end" fill="#111">0.10</text><path d="M312 752.4H316.5" stroke="#333" stroke-width="1.4"/><text x="310.9" y="756.5" font-size="12.3" font-weight="bold" text-anchor="end" fill="#111">0.05</text><path d="M341.8 752.4V756.4" stroke="#333" stroke-width="1.4"/><path d="M393 752.4V756.4" stroke="#333" stroke-width="1.4"/><text x="341.8" y="769.6" font-size="12.2" font-weight="bold" text-anchor="middle" fill="#111">0</text><text x="393" y="769.6" font-size="12.2" font-weight="bold" text-anchor="middle" fill="#111">10</text><text x="270.6" y="769.8" font-size="12.7" font-weight="bold" fill="#111">Th (min):</text><path d="M341.8 684.19L393 714.73" stroke="#80f02a" stroke-width="2.6"/><circle cx="341.8" cy="684.19" r="4.2" fill="#80f02a"/><circle cx="393" cy="714.73" r="4.2" fill="#80f02a"/><path d="M341.8 711.68L393 732.04" stroke="#6a1584" stroke-width="2.6"/><circle cx="341.8" cy="711.68" r="4.2" fill="#6a1584"/><circle cx="393" cy="732.04" r="4.2" fill="#6a1584"/><path d="M321.08 642.6H345.58" stroke="#80f02a" stroke-width="2.2"/><circle cx="333.18" cy="642.6" r="4.3" fill="#80f02a"/><text x="357.68" y="646.7" font-size="11.3" fill="#222">DMSO</text><path d="M321.08 655.6H345.58" stroke="#6a1584" stroke-width="2.2"/><circle cx="333.18" cy="655.6" r="4.3" fill="#6a1584"/><text x="357.68" y="659.7" font-size="11.3" fill="#222">SB203580</text><text transform="translate(263.08,699) rotate(-90)" font-size="14.3" font-weight="bold" text-anchor="middle" fill="#111">C5, 109 p-peptides,</text><text transform="translate(278.48,699) rotate(-90)" font-size="13.9" font-weight="bold" text-anchor="middle" fill="#111">Rel. Abundance</text>
<text x="437.4" y="45.1" font-size="16.1" font-weight="bold" fill="#000">GO Analysis</text>
<text x="437.4" y="67.2" font-size="14.2" fill="#111">Guanine-nucleotide releasing factor (p=2.8e-4)</text>
<text x="437.9" y="83.2" font-size="14.2" fill="#111">Microtubule (p=1.6e-3)</text>
<text x="438.5" y="102.1" font-size="14.2" fill="#111">Rho GTPase binding (p=2.1e-3)</text>
<text x="436.4" y="118.9" font-size="14.2" fill="#111">Calponin homology domain (p=6.7e-3)</text>
<text x="439" y="138.7" font-size="14.2" fill="#111">Pleckstrin homology-like domain (p=8.3e-3)</text>
<text x="438.5" y="155.3" font-size="14.2" fill="#111">Regulation of small GTPase mediated -</text>
<text x="460.6" y="172.1" font-size="14.2" fill="#111">signal transduction (p=9.1e-3)</text>
<text x="437.9" y="231.7" font-size="14.2" fill="#111">Focal adhesion (p=6.4e-3)</text>
<text x="437.9" y="247.6" font-size="14.2" fill="#111">Integrin signaling pathway (p=6.7e-3)</text>
<text x="437.9" y="264.7" font-size="14.2" fill="#111">DNA-binding region:A.T hook 2 (p=7e-3)</text>
<text x="439.4" y="279.6" font-size="14.2" fill="#111">Stress fiber (p=9.8e-3)</text>
<text x="439.6" y="297.1" font-size="14.2" fill="#111">LIM domain (p=1.5e-2)</text>
<text x="438.4" y="313.8" font-size="14.2" fill="#111">Calponin homology domain (p=2.2e-2)</text>
<text x="435.8" y="381.6" font-size="14.2" fill="#111">Postsynaptic cell membrane (p=1.2e-4)</text>
<text x="435.6" y="398.1" font-size="14.2" fill="#111">Cell junction (p=2.9e-4)</text>
<text x="436.2" y="415.2" font-size="14.2" fill="#111">Domain: PDZ (p=2.8e-3)</text>
<text x="436.2" y="432.2" font-size="14.2" fill="#111">Repeat: ANK (p=1.1e-2)</text>
<text x="435.3" y="450.7" font-size="14.2" fill="#111">Protein autophosphorylation - 8 (p=2.4e-2)</text>
<text x="435.9" y="469.1" font-size="14.2" fill="#111">Calcium (p=3.1e-2)</text>
<text x="436.6" y="517.6" font-size="14.2" fill="#111">Endocytosis (p=5e-6)</text>
<text x="435.5" y="535.5" font-size="14.2" fill="#111">Postsynaptic density (p=6.6e-4)</text>
<text x="433.9" y="553.8" font-size="14.2" fill="#111">Cell-cell adherens junction (p=2.4e-3)</text>
<text x="435.3" y="571.8" font-size="14.2" fill="#111">PDZ (p=2.9e-3)</text>
<text x="434.7" y="589" font-size="14.2" fill="#111">Src homology-3 domain&#160; (p=9.1e-3)</text>
<text x="435" y="605.6" font-size="14.2" fill="#111">Clathrin-coated pit&#160; (p=4.3e-2)</text>
<text x="436.1" y="678.3" font-size="14.2" fill="#111">Dendritic spine (p=1.5e-2)</text>
<text x="435.3" y="696" font-size="14.2" fill="#111">Gene expression&#160; (p=3.1e-2)</text>
<text x="435.9" y="715.1" font-size="14.2" fill="#111">Domain: SH3&#160; (p=3.7e-2)</text>
<text x="436.6" y="731.3" font-size="14.2" fill="#111">Nucleus (p=3.9e-2)</text>
<rect x="85.1" y="870.9" width="19.9" height="21.1" fill="#d01c20"/>
<rect x="105" y="870.9" width="20" height="21.1" fill="#d65457"/>
<rect x="125" y="870.9" width="20" height="21.1" fill="#d65457"/>
<rect x="145" y="870.9" width="20.2" height="21.1" fill="#efc3c6"/>
<rect x="85.1" y="892" width="19.9" height="20.5" fill="#d65457"/>
<rect x="105" y="892" width="20" height="20.5" fill="#d01c20"/>
<rect x="125" y="892" width="20" height="20.5" fill="#df8082"/>
<rect x="145" y="892" width="20.2" height="20.5" fill="#de7b7e"/>
<rect x="85.1" y="912.5" width="19.9" height="20.7" fill="#d65457"/>
<rect x="105" y="912.5" width="20" height="20.7" fill="#df8082"/>
<rect x="125" y="912.5" width="20" height="20.7" fill="#d01c20"/>
<rect x="145" y="912.5" width="20.2" height="20.7" fill="#f2d0d2"/>
<rect x="85.1" y="933.2" width="19.9" height="21.1" fill="#efc3c6"/>
<rect x="105" y="933.2" width="20" height="21.1" fill="#de7b7e"/>
<rect x="125" y="933.2" width="20" height="21.1" fill="#f2d0d2"/>
<rect x="145" y="933.2" width="20.2" height="21.1" fill="#d01c20"/>
<rect x="104.6" y="870.9" width="0.8" height="84" fill="#fff" opacity="0.25"/>
<rect x="124.6" y="870.9" width="0.8" height="84" fill="#fff" opacity="0.25"/>
<rect x="144.6" y="870.9" width="0.8" height="84" fill="#fff" opacity="0.25"/>
<rect x="103.2" y="783.6" width="1" height="86.5" fill="#ccc"/>
<rect x="123.3" y="783.6" width="1" height="86.5" fill="#ccc"/>
<rect x="143.2" y="783.6" width="1" height="86.5" fill="#ccc"/>
<rect x="163.1" y="783.6" width="1" height="86.5" fill="#ccc"/>
<text transform="translate(98.3,866.6) rotate(-90)" font-size="14.4" fill="#111">DMSO_0_1</text>
<text transform="translate(118.3,866.6) rotate(-90)" font-size="14.4" fill="#111">DMSO_0_2</text>
<text transform="translate(138.3,866.6) rotate(-90)" font-size="14.4" fill="#111">SB_0_1</text>
<text transform="translate(158.3,866.6) rotate(-90)" font-size="14.4" fill="#111">SB_0_2</text>
<text x="172.6" y="867.9" font-size="15" font-weight="bold" fill="#111">id</text>
<text x="173.4" y="892.2" font-size="13.9" fill="#111">DMSO_0_1</text>
<text x="173.4" y="912.7" font-size="13.9" fill="#111">DMSO_0_2</text>
<text x="173.4" y="933.8" font-size="13.9" fill="#111">SB_0_1</text>
<text x="173.4" y="954" font-size="13.9" fill="#111">SB_0_2</text>
<rect x="172" y="897.85" width="98.4" height="0.9" fill="#ccc"/>
<rect x="172" y="918.25" width="98.4" height="0.9" fill="#ccc"/>
<rect x="172" y="938.75" width="98.4" height="0.9" fill="#ccc"/>
<text x="315" y="862.8" font-size="15.5" fill="#111">Spearman Correlation</text>
<rect x="287.8" y="872.5" width="207.6" height="17.9" fill="url(#gC)" stroke="#000" stroke-width="1.6"/>
<rect x="318.95" y="892.7" width="0.9" height="16" fill="#ddd"/>
<rect x="339.15" y="892.7" width="0.9" height="16" fill="#ddd"/>
<rect x="358.65" y="892.7" width="0.9" height="16" fill="#ddd"/>
<rect x="378.75" y="892.7" width="0.9" height="16" fill="#ddd"/>
<text x="282.6" y="906.7" font-size="15.3" fill="#111">-1.00</text>
<text x="376.4" y="906.5" font-size="13.9" fill="#111">0.00</text>
<text x="479.6" y="904.5" font-size="14.6" fill="#111">1.00</text>
</svg>
</body></html>
